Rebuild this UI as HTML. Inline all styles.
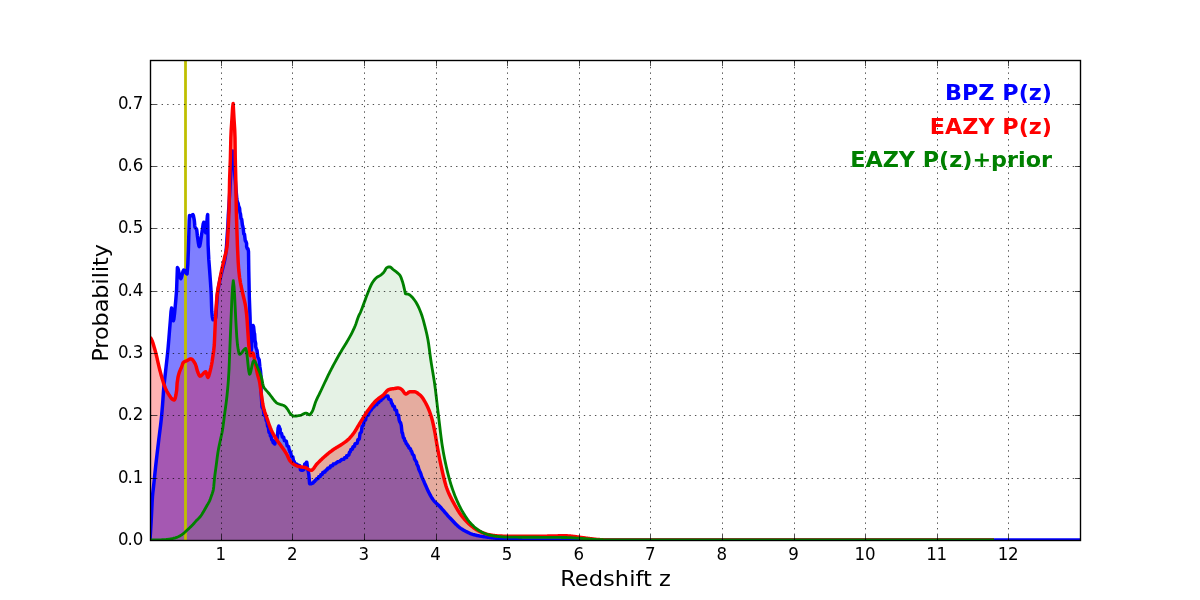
<!DOCTYPE html>
<html lang="en">
<head>
<meta charset="utf-8">
<title>P(z)</title>
<style>
html,body{margin:0;padding:0;background:#fff;}
body{width:1200px;height:600px;overflow:hidden;}
svg{display:block;}
text{font-family:"DejaVu Sans","Bitstream Vera Sans","Liberation Sans",sans-serif;fill:#000;}
.tick{font-size:16.67px;letter-spacing:-0.3px;}
.ytick{font-size:16.67px;}
.lab{font-size:22.22px;}
.leg{font-size:22.22px;font-weight:bold;}
</style>
</head>
<body>
<svg width="1200" height="600" viewBox="0 0 1200 600">
<rect x="0" y="0" width="1200" height="600" fill="#ffffff"/>
<defs><clipPath id="ax"><rect x="150" y="60" width="930" height="480"/></clipPath></defs>
<g clip-path="url(#ax)">
<path d="M150.00,540.00 L150.70,529.27 L151.25,520.00 L152.10,502.52 L152.50,496.00 L152.80,492.86 L153.50,487.00 L153.50,487.00 L154.20,480.33 L154.90,473.49 L155.60,466.83 L155.80,465.00 L156.30,460.58 L157.00,454.60 L157.70,448.77 L158.40,442.95 L158.75,440.00 L159.10,437.10 L159.80,431.56 L160.50,425.97 L161.20,419.89 L161.70,415.00 L162.60,404.02 L162.90,400.00 L163.30,394.10 L163.60,390.00 L164.00,385.63 L164.70,379.09 L165.50,372.00 L166.10,366.58 L166.80,360.43 L167.50,354.00 L167.90,350.00 L168.20,346.74 L168.90,338.34 L169.60,329.67 L170.00,325.00 L170.30,321.21 L171.00,311.80 L171.60,308.00 L172.40,313.84 L173.10,320.31 L173.30,320.80 L173.80,319.46 L174.50,314.12 L175.20,306.61 L175.80,300.00 L176.60,290.00 L176.60,290.00 L177.40,267.60 L178.00,268.52 L178.70,271.23 L179.40,274.60 L180.10,277.48 L180.80,278.70 L180.80,278.70 L181.50,277.42 L182.20,274.57 L182.90,271.62 L183.70,270.00 L184.30,270.32 L185.00,271.27 L185.70,272.46 L186.40,273.47 L187.10,273.90 L187.10,273.90 L187.80,264.63 L188.40,250.00 L189.20,220.49 L189.50,215.60 L189.90,215.64 L190.60,215.76 L191.00,215.80 L191.30,215.72 L192.00,215.15 L192.70,214.64 L192.90,214.60 L193.40,215.54 L194.10,219.09 L194.40,221.00 L194.80,225.74 L195.00,227.30 L195.50,228.07 L196.20,228.57 L196.60,229.20 L196.90,231.13 L197.40,236.00 L198.30,242.61 L199.00,246.17 L199.30,246.60 L199.70,246.01 L200.40,242.77 L201.10,237.99 L201.80,233.17 L202.00,232.00 L202.50,228.65 L203.20,223.84 L203.75,222.20 L204.60,226.49 L205.30,231.64 L205.70,232.80 L206.00,231.69 L206.70,223.70 L207.40,215.71 L207.70,214.60 L208.10,245.00 L208.10,245.00 L208.80,259.70 L209.60,270.00 L210.20,278.40 L210.90,288.38 L211.25,295.00 L211.60,306.70 L211.80,311.70 L212.30,316.79 L213.00,319.80 L213.00,319.80 L213.70,319.70 L214.40,319.40 L215.10,318.89 L215.50,318.50 L215.80,316.88 L216.50,306.63 L217.30,295.00 L217.90,290.61 L218.60,286.55 L219.40,282.50 L220.00,279.64 L220.70,276.61 L221.40,273.74 L222.10,270.85 L222.30,270.00 L222.80,267.97 L223.50,265.34 L224.20,262.56 L224.90,259.21 L225.20,257.50 L225.60,254.77 L226.30,248.41 L226.60,245.00 L227.00,238.42 L227.20,235.00 L227.70,228.26 L227.90,225.00 L228.30,215.00 L229.00,205.00 L229.60,195.00 L230.50,178.00 L230.50,178.00 L231.20,166.94 L231.90,156.95 L232.60,151.34 L232.80,151.00 L233.30,153.26 L234.00,161.80 L234.70,172.57 L235.10,178.00 L235.40,181.68 L236.10,190.38 L236.50,194.86 L236.80,198.59 L237.00,200.16 L237.50,201.88 L238.20,203.40 L238.50,205.71 L238.90,206.72 L239.60,208.47 L239.90,212.10 L240.30,213.44 L240.50,213.88 L241.00,218.53 L241.70,219.25 L241.70,219.25 L242.40,224.89 L242.70,225.90 L243.20,228.30 L243.80,233.96 L244.50,234.32 L244.50,234.32 L245.20,240.19 L245.50,241.14 L245.90,241.42 L246.60,243.30 L246.60,246.70 L247.30,248.50 L248.00,248.86 L248.50,251.60 L248.80,271.70 L249.30,296.70 L250.10,318.30 L250.10,318.30 L250.50,341.70 L250.90,354.30 L251.60,346.70 L252.20,332.60 L252.90,326.18 L253.10,325.50 L253.60,326.90 L254.30,333.42 L254.60,333.83 L255.00,340.41 L255.70,343.30 L255.70,346.70 L256.40,348.76 L257.00,350.30 L257.80,357.04 L258.30,358.03 L259.20,359.82 L259.90,366.99 L260.50,371.02 L261.00,376.60 L261.05,391.70 L261.30,395.38 L262.00,406.90 L262.30,407.81 L262.70,408.11 L263.40,409.68 L264.10,414.98 L264.80,415.54 L265.50,415.82 L265.70,415.92 L266.20,420.53 L266.90,420.95 L267.60,426.34 L268.30,426.78 L269.00,432.35 L269.70,432.71 L270.00,432.84 L270.40,435.96 L271.10,436.26 L271.80,439.84 L272.50,440.11 L273.20,442.83 L273.90,442.99 L274.60,443.98 L274.80,443.99 L275.30,441.83 L276.00,440.22 L276.70,439.79 L277.30,437.70 L278.10,428.03 L278.90,426.00 L279.50,427.66 L280.20,429.30 L280.20,432.70 L280.90,433.27 L281.60,433.50 L281.60,433.50 L282.30,436.95 L283.00,437.12 L283.70,437.29 L284.40,440.68 L285.10,440.84 L285.80,441.02 L286.30,441.16 L287.20,445.99 L287.90,446.25 L288.60,446.52 L289.30,450.24 L289.70,450.38 L290.00,452.22 L290.70,452.46 L291.40,456.33 L292.20,456.62 L292.80,456.86 L293.50,461.13 L294.20,461.41 L295.00,463.97 L295.60,464.04 L296.30,464.09 L297.00,464.13 L297.70,465.43 L298.40,465.48 L299.00,465.54 L299.80,465.75 L300.50,469.96 L301.20,470.22 L301.90,470.37 L302.10,470.25 L302.60,470.20 L303.30,469.99 L304.00,469.42 L304.70,463.99 L305.40,463.69 L306.10,463.50 L306.50,462.20 L306.80,462.26 L307.50,467.82 L308.30,471.57 L308.90,475.14 L309.60,483.68 L310.00,483.88 L310.30,483.88 L311.00,483.85 L311.70,483.24 L312.40,483.17 L313.10,483.08 L313.80,481.68 L314.50,481.58 L315.20,480.30 L315.90,480.20 L316.70,478.73 L317.30,478.65 L318.00,478.56 L318.70,476.83 L319.40,476.73 L320.10,476.62 L320.80,474.75 L321.50,474.64 L322.20,474.54 L322.90,472.41 L323.60,472.31 L324.30,472.21 L325.00,472.12 L325.00,471.04 L325.70,470.95 L326.40,469.82 L327.10,469.72 L327.80,468.11 L328.50,468.02 L329.20,467.93 L329.90,467.85 L330.60,465.88 L331.30,465.80 L332.00,465.72 L332.70,465.65 L333.30,464.02 L334.10,463.95 L334.80,463.88 L335.50,463.82 L336.20,462.76 L336.90,462.71 L337.60,461.74 L338.30,461.69 L339.00,461.64 L339.70,461.58 L340.40,460.58 L341.10,460.52 L341.70,459.45 L342.50,459.38 L343.20,459.32 L343.90,459.25 L344.60,457.65 L345.30,457.57 L346.00,457.50 L346.70,457.41 L346.70,455.59 L347.40,455.48 L348.10,455.34 L348.80,455.18 L349.50,452.28 L350.20,452.10 L350.90,449.50 L351.70,449.31 L352.30,449.19 L353.00,446.74 L353.70,446.61 L354.40,446.49 L355.10,443.70 L355.80,443.57 L356.50,443.42 L357.20,443.26 L357.90,439.60 L358.30,439.48 L358.60,439.39 L359.30,439.10 L360.00,433.48 L360.70,432.64 L361.40,431.78 L362.10,425.94 L362.80,425.60 L363.30,425.40 L364.20,420.52 L364.90,420.28 L365.60,420.05 L366.30,415.60 L367.00,415.40 L367.70,415.20 L368.40,415.02 L369.10,411.86 L369.80,411.71 L370.00,410.38 L370.50,410.28 L371.20,410.15 L371.90,408.33 L372.60,408.21 L373.30,406.87 L374.00,406.77 L374.70,404.99 L375.40,404.89 L376.10,404.79 L376.80,404.70 L377.50,402.66 L378.30,402.55 L378.90,402.47 L379.60,400.73 L380.30,400.63 L381.00,400.54 L381.70,398.91 L382.40,398.82 L383.00,398.75 L383.80,397.29 L384.50,397.19 L385.20,396.08 L385.90,396.01 L386.70,395.90 L387.30,395.93 L388.00,396.03 L388.70,399.20 L389.40,399.39 L390.10,399.60 L390.80,399.86 L391.60,403.41 L392.20,403.56 L392.90,406.09 L393.60,406.26 L394.30,406.44 L395.00,409.92 L395.70,410.12 L396.50,410.37 L397.10,414.50 L397.80,414.75 L398.50,415.02 L399.20,420.23 L399.90,422.16 L400.50,422.49 L401.30,425.58 L402.00,432.62 L402.50,432.98 L403.40,437.71 L404.10,437.99 L404.80,440.90 L405.00,440.97 L405.50,441.14 L406.20,443.56 L406.90,443.81 L407.60,445.70 L408.30,445.98 L409.00,448.04 L409.70,448.37 L410.40,448.77 L411.10,450.92 L411.70,451.39 L412.50,454.15 L413.20,454.87 L413.90,455.72 L414.60,459.03 L415.30,460.22 L416.00,461.26 L416.70,462.59 L416.70,463.92 L417.40,465.05 L418.10,466.33 L418.80,469.23 L419.50,470.79 L420.20,472.25 L420.90,473.93 L421.60,476.36 L422.30,477.88 L422.90,479.14 L423.70,480.91 L424.40,482.65 L425.10,484.23 L425.80,485.82 L426.50,487.39 L427.20,488.93 L427.90,490.44 L428.60,491.90 L429.30,493.31 L430.00,494.67 L430.70,495.95 L431.40,497.16 L432.10,498.29 L432.80,499.32 L433.30,500.00 L434.20,501.10 L434.90,501.86 L435.60,502.57 L436.30,503.23 L437.00,503.87 L437.70,504.50 L438.40,505.14 L439.10,505.79 L439.80,506.49 L440.00,506.70 L440.50,507.23 L441.20,508.00 L441.90,508.79 L442.60,509.58 L443.30,510.39 L444.00,511.21 L444.70,512.03 L445.40,512.85 L446.10,513.67 L446.80,514.48 L447.50,515.28 L448.20,516.07 L448.90,516.84 L449.60,517.58 L450.00,518.00 L450.30,518.31 L451.00,519.04 L451.70,519.78 L452.40,520.52 L453.10,521.26 L453.80,522.00 L454.50,522.73 L455.20,523.45 L455.90,524.16 L456.60,524.85 L457.30,525.51 L458.00,526.16 L458.70,526.77 L459.40,527.35 L460.10,527.90 L460.80,528.41 L461.50,528.88 L461.70,529.00 L462.20,529.30 L462.90,529.72 L463.60,530.13 L464.30,530.53 L465.00,530.92 L465.70,531.30 L466.40,531.66 L467.10,532.01 L467.80,532.35 L468.50,532.68 L469.20,533.00 L469.90,533.29 L470.60,533.58 L471.30,533.85 L472.00,534.10 L472.70,534.34 L473.40,534.56 L474.10,534.76 L474.80,534.95 L475.00,535.00 L475.50,535.12 L476.20,535.28 L476.90,535.44 L477.60,535.59 L478.30,535.73 L479.00,535.87 L479.70,536.01 L480.40,536.13 L481.10,536.25 L481.80,536.37 L482.50,536.48 L483.20,536.59 L483.90,536.70 L484.60,536.80 L485.30,536.90 L486.00,536.99 L486.70,537.09 L487.40,537.18 L488.10,537.27 L488.80,537.35 L489.50,537.44 L490.00,537.50 L490.90,537.61 L491.60,537.69 L492.30,537.77 L493.00,537.85 L493.70,537.93 L494.40,538.00 L495.10,538.08 L495.80,538.15 L496.50,538.22 L497.20,538.29 L497.90,538.36 L498.60,538.43 L499.30,538.49 L500.00,538.56 L500.70,538.62 L501.40,538.67 L502.10,538.73 L502.80,538.78 L503.50,538.84 L504.20,538.89 L504.90,538.93 L505.60,538.98 L506.00,539.00 L506.30,539.02 L507.00,539.06 L507.70,539.10 L508.40,539.14 L509.10,539.18 L509.80,539.23 L510.50,539.27 L511.20,539.31 L511.90,539.35 L512.60,539.39 L513.30,539.43 L514.00,539.47 L514.70,539.51 L515.40,539.55 L516.10,539.58 L516.80,539.62 L517.50,539.65 L518.20,539.69 L518.90,539.72 L519.60,539.75 L520.30,539.78 L521.00,539.81 L521.70,539.84 L522.40,539.86 L523.10,539.88 L523.80,539.90 L524.50,539.92 L525.20,539.94 L525.90,539.96 L526.60,539.97 L527.30,539.98 L528.00,539.99 L528.70,540.00 L529.40,540.00 L530.00,540.00 L530.80,540.00 L531.50,540.00 L532.20,540.00 L532.90,540.00 L533.60,540.00 L534.30,540.00 L535.00,540.00 L535.70,540.00 L536.40,540.00 L537.10,540.00 L537.80,540.00 L538.50,540.00 L539.20,540.00 L539.90,540.00 L540.60,540.00 L541.30,540.00 L542.00,540.00 L542.70,540.00 L543.40,540.00 L544.10,540.00 L544.80,540.00 L545.50,540.00 L546.20,540.00 L546.90,540.00 L547.60,540.00 L548.30,540.00 L549.00,540.00 L549.70,540.00 L550.40,540.00 L551.10,540.00 L551.80,540.00 L552.50,540.00 L553.20,540.00 L553.90,540.00 L554.60,540.00 L555.30,540.00 L556.00,540.00 L556.70,540.00 L557.40,540.00 L558.10,540.00 L558.80,540.00 L559.50,540.00 L560.20,540.00 L560.90,540.00 L561.60,540.00 L562.30,540.00 L563.00,540.00 L563.70,540.00 L564.40,540.00 L565.10,540.00 L565.80,540.00 L566.50,540.00 L567.20,540.00 L567.90,540.00 L568.60,540.00 L569.30,540.00 L570.00,540.00 L570.70,540.00 L571.40,540.00 L572.10,540.00 L572.80,540.00 L573.50,540.00 L574.20,540.00 L574.90,540.00 L575.60,540.00 L576.30,540.00 L577.00,540.00 L577.70,540.00 L578.40,540.00 L579.10,540.00 L579.80,540.00 L580.50,540.00 L581.20,540.00 L581.90,540.00 L582.60,540.00 L583.30,540.00 L584.00,540.00 L584.70,540.00 L585.40,540.00 L586.10,540.00 L586.80,540.00 L587.50,540.00 L588.20,540.00 L588.90,540.00 L589.60,540.00 L590.30,540.00 L591.00,540.00 L591.70,540.00 L592.40,540.00 L593.10,540.00 L593.80,540.00 L594.50,540.00 L595.20,540.00 L595.90,540.00 L596.60,540.00 L597.30,540.00 L598.00,540.00 L598.70,540.00 L599.40,540.00 L600.10,540.00 L600.80,540.00 L601.50,540.00 L602.20,540.00 L602.90,540.00 L603.60,540.00 L604.30,540.00 L605.00,540.00 L605.70,540.00 L606.40,540.00 L607.10,540.00 L607.80,540.00 L608.50,540.00 L609.20,540.00 L609.90,540.00 L610.60,540.00 L611.30,540.00 L612.00,540.00 L612.70,540.00 L613.40,540.00 L614.10,540.00 L614.80,540.00 L615.50,540.00 L616.20,540.00 L616.90,540.00 L617.60,540.00 L618.30,540.00 L619.00,540.00 L619.70,540.00 L620.40,540.00 L621.10,540.00 L621.80,540.00 L622.50,540.00 L623.20,540.00 L623.90,540.00 L624.60,540.00 L625.30,540.00 L626.00,540.00 L626.70,540.00 L627.40,540.00 L628.10,540.00 L628.80,540.00 L629.50,540.00 L630.20,540.00 L630.90,540.00 L631.60,540.00 L632.30,540.00 L633.00,540.00 L633.70,540.00 L634.40,540.00 L635.10,540.00 L635.80,540.00 L636.50,540.00 L637.20,540.00 L637.90,540.00 L638.60,540.00 L639.30,540.00 L640.00,540.00 L640.70,540.00 L641.40,540.00 L642.10,540.00 L642.80,540.00 L643.50,540.00 L644.20,540.00 L644.90,540.00 L645.60,540.00 L646.30,540.00 L647.00,540.00 L647.70,540.00 L648.40,540.00 L649.10,540.00 L649.80,540.00 L650.50,540.00 L651.20,540.00 L651.90,540.00 L652.60,540.00 L653.30,540.00 L654.00,540.00 L654.70,540.00 L655.40,540.00 L656.10,540.00 L656.80,540.00 L657.50,540.00 L658.20,540.00 L658.90,540.00 L659.60,540.00 L660.30,540.00 L661.00,540.00 L661.70,540.00 L662.40,540.00 L663.10,540.00 L663.80,540.00 L664.50,540.00 L665.20,540.00 L665.90,540.00 L666.60,540.00 L667.30,540.00 L668.00,540.00 L668.70,540.00 L669.40,540.00 L670.10,540.00 L670.80,540.00 L671.50,540.00 L672.20,540.00 L672.90,540.00 L673.60,540.00 L674.30,540.00 L675.00,540.00 L675.70,540.00 L676.40,540.00 L677.10,540.00 L677.80,540.00 L678.50,540.00 L679.20,540.00 L679.90,540.00 L680.60,540.00 L681.30,540.00 L682.00,540.00 L682.70,540.00 L683.40,540.00 L684.10,540.00 L684.80,540.00 L685.50,540.00 L686.20,540.00 L686.90,540.00 L687.60,540.00 L688.30,540.00 L689.00,540.00 L689.70,540.00 L690.40,540.00 L691.10,540.00 L691.80,540.00 L692.50,540.00 L693.20,540.00 L693.90,540.00 L694.60,540.00 L695.30,540.00 L696.00,540.00 L696.70,540.00 L697.40,540.00 L698.10,540.00 L698.80,540.00 L699.50,540.00 L700.20,540.00 L700.90,540.00 L701.60,540.00 L702.30,540.00 L703.00,540.00 L703.70,540.00 L704.40,540.00 L705.10,540.00 L705.80,540.00 L706.50,540.00 L707.20,540.00 L707.90,540.00 L708.60,540.00 L709.30,540.00 L710.00,540.00 L710.70,540.00 L711.40,540.00 L712.10,540.00 L712.80,540.00 L713.50,540.00 L714.20,540.00 L714.90,540.00 L715.60,540.00 L716.30,540.00 L717.00,540.00 L717.70,540.00 L718.40,540.00 L719.10,540.00 L719.80,540.00 L720.50,540.00 L721.20,540.00 L721.90,540.00 L722.60,540.00 L723.30,540.00 L724.00,540.00 L724.70,540.00 L725.40,540.00 L726.10,540.00 L726.80,540.00 L727.50,540.00 L728.20,540.00 L728.90,540.00 L729.60,540.00 L730.30,540.00 L731.00,540.00 L731.70,540.00 L732.40,540.00 L733.10,540.00 L733.80,540.00 L734.50,540.00 L735.20,540.00 L735.90,540.00 L736.60,540.00 L737.30,540.00 L738.00,540.00 L738.70,540.00 L739.40,540.00 L740.10,540.00 L740.80,540.00 L741.50,540.00 L742.20,540.00 L742.90,540.00 L743.60,540.00 L744.30,540.00 L745.00,540.00 L745.70,540.00 L746.40,540.00 L747.10,540.00 L747.80,540.00 L748.50,540.00 L749.20,540.00 L749.90,540.00 L750.60,540.00 L751.30,540.00 L752.00,540.00 L752.70,540.00 L753.40,540.00 L754.10,540.00 L754.80,540.00 L755.50,540.00 L756.20,540.00 L756.90,540.00 L757.60,540.00 L758.30,540.00 L759.00,540.00 L759.70,540.00 L760.40,540.00 L761.10,540.00 L761.80,540.00 L762.50,540.00 L763.20,540.00 L763.90,540.00 L764.60,540.00 L765.30,540.00 L766.00,540.00 L766.70,540.00 L767.40,540.00 L768.10,540.00 L768.80,540.00 L769.50,540.00 L770.20,540.00 L770.90,540.00 L771.60,540.00 L772.30,540.00 L773.00,540.00 L773.70,540.00 L774.40,540.00 L775.10,540.00 L775.80,540.00 L776.50,540.00 L777.20,540.00 L777.90,540.00 L778.60,540.00 L779.30,540.00 L780.00,540.00 L780.70,540.00 L781.40,540.00 L782.10,540.00 L782.80,540.00 L783.50,540.00 L784.20,540.00 L784.90,540.00 L785.60,540.00 L786.30,540.00 L787.00,540.00 L787.70,540.00 L788.40,540.00 L789.10,540.00 L789.80,540.00 L790.50,540.00 L791.20,540.00 L791.90,540.00 L792.60,540.00 L793.30,540.00 L794.00,540.00 L794.70,540.00 L795.40,540.00 L796.10,540.00 L796.80,540.00 L797.50,540.00 L798.20,540.00 L798.90,540.00 L799.60,540.00 L800.30,540.00 L801.00,540.00 L801.70,540.00 L802.40,540.00 L803.10,540.00 L803.80,540.00 L804.50,540.00 L805.20,540.00 L805.90,540.00 L806.60,540.00 L807.30,540.00 L808.00,540.00 L808.70,540.00 L809.40,540.00 L810.10,540.00 L810.80,540.00 L811.50,540.00 L812.20,540.00 L812.90,540.00 L813.60,540.00 L814.30,540.00 L815.00,540.00 L815.70,540.00 L816.40,540.00 L817.10,540.00 L817.80,540.00 L818.50,540.00 L819.20,540.00 L819.90,540.00 L820.60,540.00 L821.30,540.00 L822.00,540.00 L822.70,540.00 L823.40,540.00 L824.10,540.00 L824.80,540.00 L825.50,540.00 L826.20,540.00 L826.90,540.00 L827.60,540.00 L828.30,540.00 L829.00,540.00 L829.70,540.00 L830.40,540.00 L831.10,540.00 L831.80,540.00 L832.50,540.00 L833.20,540.00 L833.90,540.00 L834.60,540.00 L835.30,540.00 L836.00,540.00 L836.70,540.00 L837.40,540.00 L838.10,540.00 L838.80,540.00 L839.50,540.00 L840.20,540.00 L840.90,540.00 L841.60,540.00 L842.30,540.00 L843.00,540.00 L843.70,540.00 L844.40,540.00 L845.10,540.00 L845.80,540.00 L846.50,540.00 L847.20,540.00 L847.90,540.00 L848.60,540.00 L849.30,540.00 L850.00,540.00 L850.70,540.00 L851.40,540.00 L852.10,540.00 L852.80,540.00 L853.50,540.00 L854.20,540.00 L854.90,540.00 L855.60,540.00 L856.30,540.00 L857.00,540.00 L857.70,540.00 L858.40,540.00 L859.10,540.00 L859.80,540.00 L860.50,540.00 L861.20,540.00 L861.90,540.00 L862.60,540.00 L863.30,540.00 L864.00,540.00 L864.70,540.00 L865.40,540.00 L866.10,540.00 L866.80,540.00 L867.50,540.00 L868.20,540.00 L868.90,540.00 L869.60,540.00 L870.30,540.00 L871.00,540.00 L871.70,540.00 L872.40,540.00 L873.10,540.00 L873.80,540.00 L874.50,540.00 L875.20,540.00 L875.90,540.00 L876.60,540.00 L877.30,540.00 L878.00,540.00 L878.70,540.00 L879.40,540.00 L880.10,540.00 L880.80,540.00 L881.50,540.00 L882.20,540.00 L882.90,540.00 L883.60,540.00 L884.30,540.00 L885.00,540.00 L885.70,540.00 L886.40,540.00 L887.10,540.00 L887.80,540.00 L888.50,540.00 L889.20,540.00 L889.90,540.00 L890.60,540.00 L891.30,540.00 L892.00,540.00 L892.70,540.00 L893.40,540.00 L894.10,540.00 L894.80,540.00 L895.50,540.00 L896.20,540.00 L896.90,540.00 L897.60,540.00 L898.30,540.00 L899.00,540.00 L899.70,540.00 L900.40,540.00 L901.10,540.00 L901.80,540.00 L902.50,540.00 L903.20,540.00 L903.90,540.00 L904.60,540.00 L905.30,540.00 L906.00,540.00 L906.70,540.00 L907.40,540.00 L908.10,540.00 L908.80,540.00 L909.50,540.00 L910.20,540.00 L910.90,540.00 L911.60,540.00 L912.30,540.00 L913.00,540.00 L913.70,540.00 L914.40,540.00 L915.10,540.00 L915.80,540.00 L916.50,540.00 L917.20,540.00 L917.90,540.00 L918.60,540.00 L919.30,540.00 L920.00,540.00 L920.70,540.00 L921.40,540.00 L922.10,540.00 L922.80,540.00 L923.50,540.00 L924.20,540.00 L924.90,540.00 L925.60,540.00 L926.30,540.00 L927.00,540.00 L927.70,540.00 L928.40,540.00 L929.10,540.00 L929.80,540.00 L930.50,540.00 L931.20,540.00 L931.90,540.00 L932.60,540.00 L933.30,540.00 L934.00,540.00 L934.70,540.00 L935.40,540.00 L936.10,540.00 L936.80,540.00 L937.50,540.00 L938.20,540.00 L938.90,540.00 L939.60,540.00 L940.30,540.00 L941.00,540.00 L941.70,540.00 L942.40,540.00 L943.10,540.00 L943.80,540.00 L944.50,540.00 L945.20,540.00 L945.90,540.00 L946.60,540.00 L947.30,540.00 L948.00,540.00 L948.70,540.00 L949.40,540.00 L950.10,540.00 L950.80,540.00 L951.50,540.00 L952.20,540.00 L952.90,540.00 L953.60,540.00 L954.30,540.00 L955.00,540.00 L955.70,540.00 L956.40,540.00 L957.10,540.00 L957.80,540.00 L958.50,540.00 L959.20,540.00 L959.90,540.00 L960.60,540.00 L961.30,540.00 L962.00,540.00 L962.70,540.00 L963.40,540.00 L964.10,540.00 L964.80,540.00 L965.50,540.00 L966.20,540.00 L966.90,540.00 L967.60,540.00 L968.30,540.00 L969.00,540.00 L969.70,540.00 L970.40,540.00 L971.10,540.00 L971.80,540.00 L972.50,540.00 L973.20,540.00 L973.90,540.00 L974.60,540.00 L975.30,540.00 L976.00,540.00 L976.70,540.00 L977.40,540.00 L978.10,540.00 L978.80,540.00 L979.50,540.00 L980.20,540.00 L980.90,540.00 L981.60,540.00 L982.30,540.00 L983.00,540.00 L983.70,540.00 L984.40,540.00 L985.10,540.00 L985.80,540.00 L986.50,540.00 L987.20,540.00 L987.90,540.00 L988.60,540.00 L989.30,540.00 L990.00,540.00 L990.70,540.00 L991.40,540.00 L992.10,540.00 L992.80,540.00 L993.50,540.00 L994.20,540.00 L994.90,540.00 L995.60,540.00 L996.30,540.00 L997.00,540.00 L997.70,540.00 L998.40,540.00 L999.10,540.00 L999.80,540.00 L1000.50,540.00 L1001.20,540.00 L1001.90,540.00 L1002.60,540.00 L1003.30,540.00 L1004.00,540.00 L1004.70,540.00 L1005.40,540.00 L1006.10,540.00 L1006.80,540.00 L1007.50,540.00 L1008.20,540.00 L1008.90,540.00 L1009.60,540.00 L1010.30,540.00 L1011.00,540.00 L1011.70,540.00 L1012.40,540.00 L1013.10,540.00 L1013.80,540.00 L1014.50,540.00 L1015.20,540.00 L1015.90,540.00 L1016.60,540.00 L1017.30,540.00 L1018.00,540.00 L1018.70,540.00 L1019.40,540.00 L1020.10,540.00 L1020.80,540.00 L1021.50,540.00 L1022.20,540.00 L1022.90,540.00 L1023.60,540.00 L1024.30,540.00 L1025.00,540.00 L1025.70,540.00 L1026.40,540.00 L1027.10,540.00 L1027.80,540.00 L1028.50,540.00 L1029.20,540.00 L1029.90,540.00 L1030.60,540.00 L1031.30,540.00 L1032.00,540.00 L1032.70,540.00 L1033.40,540.00 L1034.10,540.00 L1034.80,540.00 L1035.50,540.00 L1036.20,540.00 L1036.90,540.00 L1037.60,540.00 L1038.30,540.00 L1039.00,540.00 L1039.70,540.00 L1040.40,540.00 L1041.10,540.00 L1041.80,540.00 L1042.50,540.00 L1043.20,540.00 L1043.90,540.00 L1044.60,540.00 L1045.30,540.00 L1046.00,540.00 L1046.70,540.00 L1047.40,540.00 L1048.10,540.00 L1048.80,540.00 L1049.50,540.00 L1050.20,540.00 L1050.90,540.00 L1051.60,540.00 L1052.30,540.00 L1053.00,540.00 L1053.70,540.00 L1054.40,540.00 L1055.10,540.00 L1055.80,540.00 L1056.50,540.00 L1057.20,540.00 L1057.90,540.00 L1058.60,540.00 L1059.30,540.00 L1060.00,540.00 L1060.70,540.00 L1061.40,540.00 L1062.10,540.00 L1062.80,540.00 L1063.50,540.00 L1064.20,540.00 L1064.90,540.00 L1065.60,540.00 L1066.30,540.00 L1067.00,540.00 L1067.70,540.00 L1068.40,540.00 L1069.10,540.00 L1069.80,540.00 L1070.50,540.00 L1071.20,540.00 L1071.90,540.00 L1072.60,540.00 L1073.30,540.00 L1074.00,540.00 L1074.70,540.00 L1075.40,540.00 L1076.10,540.00 L1076.80,540.00 L1077.50,540.00 L1078.20,540.00 L1078.90,540.00 L1079.60,540.00 L1080.00,540.00 L1080.00,540.00 L150.00,540.00 Z" fill="#0000ff" fill-opacity="0.5" stroke="none"/>
<path d="M150.00,337.50 L150.70,338.12 L151.00,338.50 L151.40,339.14 L152.10,340.67 L152.80,342.62 L153.50,344.86 L154.20,347.25 L155.00,350.00 L155.60,352.16 L156.30,354.96 L157.00,357.97 L157.70,361.08 L158.40,364.20 L159.10,367.22 L159.80,370.04 L160.00,370.80 L160.50,372.65 L161.20,375.21 L161.90,377.71 L162.60,380.09 L163.30,382.35 L164.00,384.44 L164.20,385.00 L164.70,386.37 L165.40,388.21 L166.10,389.84 L166.70,391.00 L167.50,392.37 L168.20,393.56 L168.90,394.73 L169.60,395.84 L170.30,396.88 L171.00,397.81 L171.70,398.61 L172.40,399.25 L173.10,399.71 L173.80,399.96 L174.20,400.00 L174.50,399.84 L175.20,398.30 L175.90,395.22 L176.70,390.00 L177.10,383.30 L178.00,377.22 L178.75,374.20 L179.40,372.13 L180.10,370.36 L180.80,368.80 L181.50,367.20 L181.70,366.70 L182.20,365.21 L182.90,363.17 L183.30,362.50 L183.60,362.25 L184.30,361.79 L185.00,361.47 L185.70,361.21 L186.40,360.94 L186.70,360.80 L187.10,360.59 L187.80,360.17 L188.50,359.73 L189.20,359.32 L189.90,359.02 L190.60,358.86 L190.80,358.85 L191.30,358.94 L192.00,359.33 L192.70,360.00 L193.40,360.89 L194.10,361.95 L194.80,363.13 L195.40,364.20 L196.20,366.48 L196.90,369.20 L197.60,371.70 L197.90,372.50 L198.30,373.44 L199.00,375.02 L199.70,376.03 L200.00,376.15 L200.40,376.09 L201.10,375.74 L201.80,375.14 L202.50,374.40 L203.20,373.61 L203.90,372.86 L204.60,372.24 L205.30,371.84 L205.80,371.75 L206.70,373.99 L207.40,376.63 L207.90,377.45 L208.80,376.03 L209.50,373.59 L210.20,370.77 L210.40,370.00 L210.90,367.94 L211.60,364.49 L212.10,361.70 L213.00,355.57 L213.30,353.30 L213.70,350.44 L214.30,345.00 L215.10,326.72 L215.40,320.00 L215.80,312.88 L216.50,301.82 L217.10,295.00 L217.90,289.33 L218.60,285.59 L219.20,282.50 L220.00,278.27 L220.70,274.76 L221.40,271.40 L221.70,270.00 L222.10,268.19 L222.80,265.18 L223.50,262.26 L224.20,259.28 L224.60,257.50 L224.90,256.24 L225.60,253.72 L226.30,250.89 L227.00,246.64 L227.20,245.00 L227.50,240.00 L228.40,225.39 L229.05,210.00 L229.60,180.00 L230.40,158.00 L230.85,138.00 L231.20,130.13 L232.00,118.00 L232.60,108.21 L233.15,103.40 L233.95,118.00 L234.70,129.79 L235.00,138.00 L235.25,158.00 L235.80,180.00 L236.10,198.67 L236.30,210.00 L236.80,226.91 L237.25,240.00 L237.40,245.00 L238.20,262.25 L238.75,270.00 L239.60,277.47 L240.40,282.50 L241.00,285.72 L241.70,288.95 L242.40,291.92 L243.10,295.00 L243.10,295.00 L243.80,297.99 L244.50,300.82 L245.20,304.04 L245.80,307.50 L246.60,314.35 L247.10,320.00 L247.90,332.50 L248.75,345.00 L249.40,350.94 L250.10,355.23 L250.40,355.75 L250.80,355.56 L251.50,354.62 L252.20,353.53 L252.90,353.00 L252.90,353.00 L253.60,354.55 L254.30,358.04 L255.00,361.70 L255.00,361.70 L255.70,365.15 L256.40,368.87 L257.10,372.42 L257.50,374.20 L257.80,375.35 L258.50,377.64 L259.20,380.12 L259.40,381.00 L259.90,383.77 L260.60,388.69 L261.30,393.93 L261.70,396.70 L262.00,398.71 L262.70,403.42 L263.30,406.70 L264.10,409.84 L264.80,412.11 L265.50,414.13 L266.20,416.07 L266.70,417.50 L267.60,420.17 L268.30,422.24 L269.00,424.26 L269.70,426.19 L270.40,428.00 L271.25,430.00 L271.80,431.17 L272.50,432.58 L273.20,433.90 L273.90,435.14 L274.60,436.34 L275.30,437.49 L275.80,438.30 L276.70,439.70 L277.40,440.72 L278.10,441.71 L278.80,442.68 L279.50,443.63 L280.20,444.58 L280.90,445.56 L281.70,446.70 L282.30,447.57 L283.00,448.57 L283.70,449.56 L284.40,450.57 L285.10,451.62 L285.80,452.71 L286.50,453.86 L286.70,454.20 L287.20,455.15 L287.90,456.69 L288.60,458.27 L289.30,459.71 L290.00,460.80 L290.00,460.80 L290.70,461.61 L291.40,462.35 L292.10,463.01 L292.80,463.60 L293.50,464.12 L294.20,464.57 L295.00,465.00 L295.60,465.28 L296.30,465.58 L297.00,465.84 L297.70,466.08 L298.40,466.30 L299.10,466.49 L299.80,466.66 L300.00,466.70 L300.50,466.80 L301.20,466.92 L301.90,467.01 L302.60,467.10 L303.30,467.20 L304.00,467.30 L304.70,467.43 L305.00,467.50 L305.40,467.61 L306.10,467.90 L306.80,468.27 L307.50,468.69 L308.20,469.13 L308.90,469.54 L309.60,469.89 L310.30,470.15 L311.00,470.29 L311.25,470.30 L311.70,470.22 L312.40,469.80 L313.10,469.10 L313.80,468.20 L314.50,467.19 L315.20,466.15 L315.90,465.16 L316.70,464.20 L317.30,463.58 L318.00,462.86 L318.70,462.15 L319.40,461.45 L320.10,460.76 L320.80,460.07 L321.50,459.40 L322.20,458.74 L322.90,458.09 L323.60,457.44 L324.30,456.82 L325.00,456.20 L325.00,456.20 L325.70,455.59 L326.40,454.99 L327.10,454.40 L327.80,453.82 L328.50,453.24 L329.20,452.68 L329.90,452.12 L330.60,451.58 L331.30,451.05 L332.00,450.53 L332.70,450.02 L333.30,449.60 L334.10,449.06 L334.80,448.61 L335.50,448.17 L336.20,447.75 L336.90,447.34 L337.60,446.93 L338.30,446.52 L339.00,446.11 L339.70,445.69 L340.40,445.25 L341.10,444.80 L341.70,444.40 L342.50,443.85 L343.20,443.37 L343.90,442.88 L344.60,442.39 L345.30,441.87 L346.00,441.34 L346.70,440.78 L347.40,440.20 L348.10,439.58 L348.30,439.40 L348.80,438.93 L349.50,438.22 L350.20,437.47 L350.90,436.68 L351.60,435.85 L352.30,434.99 L353.00,434.09 L353.60,433.30 L354.40,432.18 L355.10,431.12 L355.80,430.01 L356.50,428.86 L357.20,427.68 L357.90,426.49 L358.60,425.30 L359.30,424.13 L360.00,423.00 L360.00,423.00 L360.70,421.88 L361.40,420.74 L362.10,419.60 L362.80,418.45 L363.50,417.31 L364.20,416.18 L364.90,415.05 L365.60,413.95 L366.30,412.88 L367.00,411.84 L367.70,410.83 L368.30,410.00 L369.10,408.92 L369.80,407.99 L370.50,407.07 L371.20,406.17 L371.90,405.28 L372.60,404.42 L373.30,403.59 L374.00,402.78 L374.70,402.01 L375.40,401.27 L376.10,400.57 L376.70,400.00 L377.50,399.31 L378.20,398.75 L378.90,398.24 L379.60,397.75 L380.30,397.27 L381.00,396.78 L381.70,396.28 L382.40,395.75 L383.10,395.17 L383.30,395.00 L383.80,394.52 L384.50,393.74 L385.20,392.89 L385.90,392.03 L386.60,391.22 L387.30,390.51 L388.00,389.97 L388.30,389.80 L388.70,389.62 L389.40,389.36 L390.00,389.20 L390.80,389.04 L391.50,388.93 L392.20,388.83 L392.90,388.75 L393.60,388.66 L394.00,388.60 L394.30,388.55 L395.00,388.43 L395.70,388.30 L396.40,388.18 L397.10,388.08 L397.80,388.02 L398.30,388.00 L399.20,388.13 L399.90,388.36 L400.50,388.60 L401.30,389.13 L402.00,389.80 L402.50,390.30 L403.40,391.43 L404.10,392.47 L404.80,393.39 L405.50,393.94 L405.80,394.00 L406.20,393.94 L406.90,393.61 L407.60,393.09 L408.30,392.53 L409.00,392.03 L409.70,391.73 L410.00,391.70 L410.40,391.70 L411.10,391.70 L411.80,391.70 L412.50,391.70 L413.20,391.70 L414.00,391.70 L414.60,391.75 L415.30,391.92 L416.00,392.20 L416.70,392.57 L417.40,393.01 L418.10,393.51 L418.80,394.04 L419.50,394.60 L420.00,395.00 L420.90,395.83 L421.60,396.62 L422.30,397.52 L423.00,398.52 L423.70,399.61 L424.40,400.78 L425.10,402.01 L425.80,403.29 L426.50,404.62 L426.70,405.00 L427.20,405.99 L427.90,407.48 L428.60,409.10 L429.30,410.85 L430.00,412.75 L430.70,414.80 L431.40,417.00 L431.70,418.00 L432.10,419.43 L432.80,422.26 L433.50,425.44 L434.20,428.88 L435.00,433.00 L435.60,436.43 L436.30,440.82 L437.00,445.00 L437.00,445.00 L437.70,448.83 L438.40,452.57 L439.10,456.21 L439.80,459.75 L440.50,463.16 L441.20,466.43 L442.00,470.00 L442.60,472.59 L443.30,475.58 L444.00,478.49 L444.70,481.26 L445.40,483.84 L446.10,486.20 L446.70,488.00 L447.50,490.15 L448.20,491.90 L448.90,493.53 L449.60,495.06 L450.30,496.51 L451.00,497.90 L451.70,499.25 L452.40,500.57 L453.00,501.70 L453.80,503.19 L454.50,504.47 L455.20,505.74 L455.90,506.97 L456.60,508.18 L457.30,509.36 L458.00,510.50 L458.70,511.61 L459.40,512.68 L460.10,513.71 L460.80,514.70 L461.50,515.64 L461.70,515.90 L462.20,516.54 L462.90,517.41 L463.60,518.26 L464.30,519.09 L465.00,519.89 L465.70,520.66 L466.40,521.40 L467.10,522.12 L467.80,522.81 L468.50,523.48 L469.20,524.11 L470.00,524.80 L470.60,525.30 L471.30,525.87 L472.00,526.44 L472.70,526.99 L473.40,527.53 L474.10,528.05 L474.80,528.55 L475.50,529.04 L476.20,529.50 L476.90,529.94 L477.60,530.36 L478.30,530.76 L479.00,531.13 L479.70,531.46 L480.00,531.60 L480.40,531.78 L481.10,532.08 L481.80,532.38 L482.50,532.66 L483.20,532.94 L483.90,533.21 L484.60,533.46 L485.30,533.70 L486.00,533.93 L486.70,534.14 L487.40,534.33 L488.10,534.51 L488.80,534.67 L489.50,534.81 L490.00,534.90 L490.90,535.04 L491.60,535.15 L492.30,535.25 L493.00,535.35 L493.70,535.44 L494.40,535.53 L495.10,535.61 L495.80,535.69 L496.50,535.75 L497.20,535.82 L497.90,535.87 L498.60,535.92 L499.30,535.96 L500.00,536.00 L500.00,536.00 L500.70,536.03 L501.40,536.06 L502.10,536.09 L502.80,536.12 L503.50,536.14 L504.20,536.16 L504.90,536.18 L505.60,536.19 L506.30,536.20 L506.70,536.20 L507.00,536.20 L507.70,536.20 L508.40,536.20 L509.10,536.20 L509.80,536.20 L510.50,536.20 L511.20,536.20 L511.90,536.20 L512.60,536.20 L513.30,536.20 L514.00,536.20 L514.70,536.20 L515.40,536.20 L516.10,536.20 L516.80,536.20 L517.50,536.20 L518.20,536.20 L518.90,536.20 L519.60,536.20 L520.30,536.20 L521.00,536.20 L521.70,536.20 L522.40,536.20 L523.10,536.20 L523.80,536.20 L524.50,536.20 L525.20,536.20 L525.90,536.20 L526.60,536.20 L527.30,536.20 L528.00,536.20 L528.70,536.20 L529.40,536.20 L530.10,536.20 L530.80,536.20 L531.50,536.20 L532.20,536.20 L532.90,536.20 L533.60,536.20 L534.30,536.20 L535.00,536.20 L535.70,536.20 L536.40,536.20 L537.10,536.20 L537.80,536.20 L538.50,536.20 L539.20,536.20 L540.00,536.20 L540.60,536.20 L541.30,536.20 L542.00,536.19 L542.70,536.19 L543.40,536.18 L544.10,536.17 L544.80,536.16 L545.50,536.15 L546.20,536.13 L546.90,536.12 L547.60,536.10 L548.30,536.09 L549.00,536.07 L549.70,536.05 L550.40,536.04 L551.10,536.02 L551.80,536.00 L552.50,535.98 L553.20,535.97 L553.90,535.95 L554.60,535.93 L555.30,535.92 L556.00,535.90 L556.00,535.90 L556.70,535.88 L557.40,535.86 L558.10,535.84 L558.80,535.82 L559.50,535.79 L560.20,535.77 L560.90,535.75 L561.60,535.73 L562.30,535.72 L563.00,535.71 L563.70,535.70 L564.00,535.70 L564.40,535.70 L565.10,535.71 L565.80,535.74 L566.50,535.77 L567.20,535.81 L567.90,535.86 L568.60,535.91 L569.30,535.97 L570.00,536.03 L570.70,536.09 L571.40,536.15 L572.00,536.20 L572.80,536.28 L573.50,536.36 L574.20,536.44 L574.90,536.54 L575.60,536.64 L576.30,536.75 L577.00,536.86 L577.70,536.96 L578.40,537.07 L579.10,537.17 L579.80,537.27 L580.00,537.30 L580.50,537.37 L581.20,537.46 L581.90,537.55 L582.60,537.65 L583.30,537.74 L584.00,537.83 L584.70,537.93 L585.40,538.02 L586.10,538.11 L586.80,538.20 L587.50,538.29 L588.20,538.38 L588.90,538.47 L589.60,538.55 L590.00,538.60 L590.30,538.64 L591.00,538.72 L591.70,538.81 L592.40,538.90 L593.10,538.99 L593.80,539.08 L594.50,539.17 L595.20,539.25 L595.90,539.32 L596.60,539.39 L597.30,539.45 L598.00,539.50 L598.00,539.50 L598.70,539.54 L599.40,539.59 L600.10,539.63 L600.80,539.67 L601.50,539.71 L602.20,539.75 L602.90,539.79 L603.60,539.82 L604.30,539.86 L605.00,539.89 L605.70,539.92 L606.40,539.94 L607.10,539.96 L607.80,539.98 L608.50,539.99 L609.20,540.00 L610.00,540.00 L610.60,540.00 L611.30,540.00 L612.00,540.00 L612.70,540.00 L613.40,540.00 L614.10,540.00 L614.80,540.00 L615.50,540.00 L616.20,540.00 L616.90,540.00 L617.60,540.00 L618.30,540.00 L619.00,540.00 L619.70,540.00 L620.40,540.00 L621.10,540.00 L621.80,540.00 L622.50,540.00 L623.20,540.00 L623.90,540.00 L624.60,540.00 L625.30,540.00 L626.00,540.00 L626.70,540.00 L627.40,540.00 L628.10,540.00 L628.80,540.00 L629.50,540.00 L630.20,540.00 L630.90,540.00 L631.60,540.00 L632.30,540.00 L633.00,540.00 L633.70,540.00 L634.40,540.00 L635.10,540.00 L635.80,540.00 L636.50,540.00 L637.20,540.00 L637.90,540.00 L638.60,540.00 L639.30,540.00 L640.00,540.00 L640.70,540.00 L641.40,540.00 L642.10,540.00 L642.80,540.00 L643.50,540.00 L644.20,540.00 L644.90,540.00 L645.60,540.00 L646.30,540.00 L647.00,540.00 L647.70,540.00 L648.40,540.00 L649.10,540.00 L649.80,540.00 L650.50,540.00 L651.20,540.00 L651.90,540.00 L652.60,540.00 L653.30,540.00 L654.00,540.00 L654.70,540.00 L655.40,540.00 L656.10,540.00 L656.80,540.00 L657.50,540.00 L658.20,540.00 L658.90,540.00 L659.60,540.00 L660.30,540.00 L661.00,540.00 L661.70,540.00 L662.40,540.00 L663.10,540.00 L663.80,540.00 L664.50,540.00 L665.20,540.00 L665.90,540.00 L666.60,540.00 L667.30,540.00 L668.00,540.00 L668.70,540.00 L669.40,540.00 L670.10,540.00 L670.80,540.00 L671.50,540.00 L672.20,540.00 L672.90,540.00 L673.60,540.00 L674.30,540.00 L675.00,540.00 L675.70,540.00 L676.40,540.00 L677.10,540.00 L677.80,540.00 L678.50,540.00 L679.20,540.00 L679.90,540.00 L680.60,540.00 L681.30,540.00 L682.00,540.00 L682.70,540.00 L683.40,540.00 L684.10,540.00 L684.80,540.00 L685.50,540.00 L686.20,540.00 L686.90,540.00 L687.60,540.00 L688.30,540.00 L689.00,540.00 L689.70,540.00 L690.40,540.00 L691.10,540.00 L691.80,540.00 L692.50,540.00 L693.20,540.00 L693.90,540.00 L694.60,540.00 L695.30,540.00 L696.00,540.00 L696.70,540.00 L697.40,540.00 L698.10,540.00 L698.80,540.00 L699.50,540.00 L700.20,540.00 L700.90,540.00 L701.60,540.00 L702.30,540.00 L703.00,540.00 L703.70,540.00 L704.40,540.00 L705.10,540.00 L705.80,540.00 L706.50,540.00 L707.20,540.00 L707.90,540.00 L708.60,540.00 L709.30,540.00 L710.00,540.00 L710.70,540.00 L711.40,540.00 L712.10,540.00 L712.80,540.00 L713.50,540.00 L714.20,540.00 L714.90,540.00 L715.60,540.00 L716.30,540.00 L717.00,540.00 L717.70,540.00 L718.40,540.00 L719.10,540.00 L719.80,540.00 L720.50,540.00 L721.20,540.00 L721.90,540.00 L722.60,540.00 L723.30,540.00 L724.00,540.00 L724.70,540.00 L725.40,540.00 L726.10,540.00 L726.80,540.00 L727.50,540.00 L728.20,540.00 L728.90,540.00 L729.60,540.00 L730.30,540.00 L731.00,540.00 L731.70,540.00 L732.40,540.00 L733.10,540.00 L733.80,540.00 L734.50,540.00 L735.20,540.00 L735.90,540.00 L736.60,540.00 L737.30,540.00 L738.00,540.00 L738.70,540.00 L739.40,540.00 L740.10,540.00 L740.80,540.00 L741.50,540.00 L742.20,540.00 L742.90,540.00 L743.60,540.00 L744.30,540.00 L745.00,540.00 L745.70,540.00 L746.40,540.00 L747.10,540.00 L747.80,540.00 L748.50,540.00 L749.20,540.00 L749.90,540.00 L750.60,540.00 L751.30,540.00 L752.00,540.00 L752.70,540.00 L753.40,540.00 L754.10,540.00 L754.80,540.00 L755.50,540.00 L756.20,540.00 L756.90,540.00 L757.60,540.00 L758.30,540.00 L759.00,540.00 L759.70,540.00 L760.40,540.00 L761.10,540.00 L761.80,540.00 L762.50,540.00 L763.20,540.00 L763.90,540.00 L764.60,540.00 L765.30,540.00 L766.00,540.00 L766.70,540.00 L767.40,540.00 L768.10,540.00 L768.80,540.00 L769.50,540.00 L770.20,540.00 L770.90,540.00 L771.60,540.00 L772.30,540.00 L773.00,540.00 L773.70,540.00 L774.40,540.00 L775.10,540.00 L775.80,540.00 L776.50,540.00 L777.20,540.00 L777.90,540.00 L778.60,540.00 L779.30,540.00 L780.00,540.00 L780.70,540.00 L781.40,540.00 L782.10,540.00 L782.80,540.00 L783.50,540.00 L784.20,540.00 L784.90,540.00 L785.60,540.00 L786.30,540.00 L787.00,540.00 L787.70,540.00 L788.40,540.00 L789.10,540.00 L789.80,540.00 L790.50,540.00 L791.20,540.00 L791.90,540.00 L792.60,540.00 L793.30,540.00 L794.00,540.00 L794.70,540.00 L795.40,540.00 L796.10,540.00 L796.80,540.00 L797.50,540.00 L798.20,540.00 L798.90,540.00 L799.60,540.00 L800.30,540.00 L801.00,540.00 L801.70,540.00 L802.40,540.00 L803.10,540.00 L803.80,540.00 L804.50,540.00 L805.20,540.00 L805.90,540.00 L806.60,540.00 L807.30,540.00 L808.00,540.00 L808.70,540.00 L809.40,540.00 L810.10,540.00 L810.80,540.00 L811.50,540.00 L812.20,540.00 L812.90,540.00 L813.60,540.00 L814.30,540.00 L815.00,540.00 L815.70,540.00 L816.40,540.00 L817.10,540.00 L817.80,540.00 L818.50,540.00 L819.20,540.00 L819.90,540.00 L820.60,540.00 L821.30,540.00 L822.00,540.00 L822.70,540.00 L823.40,540.00 L824.10,540.00 L824.80,540.00 L825.50,540.00 L826.20,540.00 L826.90,540.00 L827.60,540.00 L828.30,540.00 L829.00,540.00 L829.70,540.00 L830.40,540.00 L831.10,540.00 L831.80,540.00 L832.50,540.00 L833.20,540.00 L833.90,540.00 L834.60,540.00 L835.30,540.00 L836.00,540.00 L836.70,540.00 L837.40,540.00 L838.10,540.00 L838.80,540.00 L839.50,540.00 L840.20,540.00 L840.90,540.00 L841.60,540.00 L842.30,540.00 L843.00,540.00 L843.70,540.00 L844.40,540.00 L845.10,540.00 L845.80,540.00 L846.50,540.00 L847.20,540.00 L847.90,540.00 L848.60,540.00 L849.30,540.00 L850.00,540.00 L850.70,540.00 L851.40,540.00 L852.10,540.00 L852.80,540.00 L853.50,540.00 L854.20,540.00 L854.90,540.00 L855.60,540.00 L856.30,540.00 L857.00,540.00 L857.70,540.00 L858.40,540.00 L859.10,540.00 L859.80,540.00 L860.50,540.00 L861.20,540.00 L861.90,540.00 L862.60,540.00 L863.30,540.00 L864.00,540.00 L864.70,540.00 L865.40,540.00 L866.10,540.00 L866.80,540.00 L867.50,540.00 L868.20,540.00 L868.90,540.00 L869.60,540.00 L870.30,540.00 L871.00,540.00 L871.70,540.00 L872.40,540.00 L873.10,540.00 L873.80,540.00 L874.50,540.00 L875.20,540.00 L875.90,540.00 L876.60,540.00 L877.30,540.00 L878.00,540.00 L878.70,540.00 L879.40,540.00 L880.10,540.00 L880.80,540.00 L881.50,540.00 L882.20,540.00 L882.90,540.00 L883.60,540.00 L884.30,540.00 L885.00,540.00 L885.70,540.00 L886.40,540.00 L887.10,540.00 L887.80,540.00 L888.50,540.00 L889.20,540.00 L889.90,540.00 L890.60,540.00 L891.30,540.00 L892.00,540.00 L892.70,540.00 L893.40,540.00 L894.10,540.00 L894.80,540.00 L895.50,540.00 L896.20,540.00 L896.90,540.00 L897.60,540.00 L898.30,540.00 L899.00,540.00 L899.70,540.00 L900.40,540.00 L901.10,540.00 L901.80,540.00 L902.50,540.00 L903.20,540.00 L903.90,540.00 L904.60,540.00 L905.30,540.00 L906.00,540.00 L906.70,540.00 L907.40,540.00 L908.10,540.00 L908.80,540.00 L909.50,540.00 L910.20,540.00 L910.90,540.00 L911.60,540.00 L912.30,540.00 L913.00,540.00 L913.70,540.00 L914.40,540.00 L915.10,540.00 L915.80,540.00 L916.50,540.00 L917.20,540.00 L917.90,540.00 L918.60,540.00 L919.30,540.00 L920.00,540.00 L920.70,540.00 L921.40,540.00 L922.10,540.00 L922.80,540.00 L923.50,540.00 L924.20,540.00 L924.90,540.00 L925.60,540.00 L926.30,540.00 L927.00,540.00 L927.70,540.00 L928.40,540.00 L929.10,540.00 L929.80,540.00 L930.50,540.00 L931.20,540.00 L931.90,540.00 L932.60,540.00 L933.30,540.00 L934.00,540.00 L934.70,540.00 L935.40,540.00 L936.10,540.00 L936.80,540.00 L937.50,540.00 L938.20,540.00 L938.90,540.00 L939.60,540.00 L940.30,540.00 L941.00,540.00 L941.70,540.00 L942.40,540.00 L943.10,540.00 L943.80,540.00 L944.50,540.00 L945.20,540.00 L945.90,540.00 L946.60,540.00 L947.30,540.00 L948.00,540.00 L948.70,540.00 L949.40,540.00 L950.10,540.00 L950.80,540.00 L951.50,540.00 L952.20,540.00 L952.90,540.00 L953.60,540.00 L954.30,540.00 L955.00,540.00 L955.70,540.00 L956.40,540.00 L957.10,540.00 L957.80,540.00 L958.50,540.00 L959.20,540.00 L959.90,540.00 L960.60,540.00 L961.30,540.00 L962.00,540.00 L962.70,540.00 L963.40,540.00 L964.10,540.00 L964.80,540.00 L965.50,540.00 L966.20,540.00 L966.90,540.00 L967.60,540.00 L968.30,540.00 L969.00,540.00 L969.70,540.00 L970.40,540.00 L971.10,540.00 L971.80,540.00 L972.50,540.00 L973.20,540.00 L973.90,540.00 L974.60,540.00 L975.30,540.00 L976.00,540.00 L976.70,540.00 L977.40,540.00 L978.10,540.00 L978.80,540.00 L979.50,540.00 L980.20,540.00 L980.90,540.00 L981.60,540.00 L982.30,540.00 L983.00,540.00 L983.70,540.00 L984.40,540.00 L985.10,540.00 L985.80,540.00 L986.50,540.00 L987.20,540.00 L987.90,540.00 L988.60,540.00 L989.30,540.00 L990.00,540.00 L990.70,540.00 L991.40,540.00 L992.10,540.00 L992.80,540.00 L993.50,540.00 L994.00,540.00 L994.00,540.00 L150.00,540.00 Z" fill="#ff0000" fill-opacity="0.3" stroke="none"/>
<path d="M150.00,540.00 L150.70,540.00 L151.40,540.00 L152.10,539.99 L152.80,539.98 L153.50,539.98 L154.20,539.97 L154.90,539.96 L155.60,539.94 L156.30,539.93 L157.00,539.92 L157.70,539.91 L158.00,539.90 L158.40,539.89 L159.10,539.87 L159.80,539.85 L160.50,539.83 L161.20,539.80 L161.90,539.77 L162.60,539.74 L163.30,539.70 L164.00,539.66 L164.70,539.62 L165.00,539.60 L165.40,539.57 L166.10,539.52 L166.80,539.45 L167.50,539.37 L168.20,539.29 L168.90,539.19 L169.60,539.09 L170.30,538.98 L170.80,538.90 L171.70,538.73 L172.40,538.58 L173.10,538.41 L173.80,538.22 L174.50,538.02 L175.20,537.81 L175.90,537.58 L176.70,537.30 L177.30,537.08 L178.00,536.79 L178.70,536.47 L179.40,536.12 L180.10,535.75 L180.80,535.35 L181.50,534.93 L181.70,534.80 L182.20,534.46 L182.90,533.93 L183.60,533.35 L184.30,532.73 L185.00,532.08 L185.70,531.42 L186.40,530.77 L186.70,530.50 L187.10,530.14 L187.80,529.51 L188.50,528.87 L189.20,528.22 L189.90,527.56 L190.60,526.89 L191.30,526.20 L191.70,525.80 L192.00,525.49 L192.70,524.75 L193.40,523.97 L194.10,523.18 L194.80,522.39 L195.50,521.60 L196.20,520.83 L196.70,520.30 L197.60,519.42 L198.30,518.76 L199.00,518.09 L199.70,517.35 L200.00,517.00 L200.40,516.49 L201.10,515.51 L201.80,514.44 L202.50,513.31 L203.30,512.00 L203.90,511.00 L204.60,509.78 L205.30,508.52 L206.00,507.26 L206.70,506.00 L206.70,506.00 L207.40,504.80 L208.10,503.64 L208.80,502.41 L209.60,500.80 L210.20,499.34 L210.90,497.37 L211.70,495.00 L212.30,493.40 L213.00,491.28 L213.30,490.00 L213.70,486.98 L214.40,479.39 L214.60,477.50 L215.10,473.48 L215.80,468.33 L216.25,465.00 L216.50,463.06 L217.20,457.46 L217.90,452.50 L217.90,452.50 L218.60,448.58 L219.30,445.16 L220.00,441.90 L220.40,440.00 L220.70,438.59 L221.40,435.48 L222.10,432.18 L222.50,430.00 L222.80,428.11 L223.50,422.92 L224.20,417.31 L224.50,415.00 L224.90,412.07 L225.60,407.06 L226.30,401.68 L226.50,400.00 L227.00,395.54 L227.70,388.48 L228.00,385.00 L228.40,379.77 L229.00,370.00 L229.80,350.20 L230.00,345.00 L230.50,332.35 L231.00,320.00 L231.90,298.58 L232.10,295.00 L232.60,286.90 L233.30,280.60 L233.30,280.60 L234.00,286.10 L234.60,295.00 L235.40,311.71 L235.80,320.00 L236.10,325.30 L236.80,337.03 L237.50,345.00 L237.50,345.00 L238.20,349.61 L238.90,353.05 L239.60,354.40 L239.60,354.40 L240.30,354.19 L241.00,353.63 L241.70,352.83 L242.40,351.88 L243.10,350.88 L243.80,349.95 L244.50,349.17 L245.20,348.66 L245.80,348.50 L246.60,351.44 L247.30,357.37 L248.00,364.40 L248.70,370.60 L249.40,374.04 L249.60,374.25 L250.10,373.70 L250.80,371.49 L251.50,368.29 L252.20,364.89 L252.90,362.08 L253.75,360.60 L254.30,360.82 L255.00,361.63 L255.70,362.92 L256.40,364.51 L257.10,366.27 L257.80,368.03 L258.30,369.20 L259.20,371.26 L259.90,372.97 L260.60,374.85 L261.30,376.97 L261.70,378.30 L262.00,379.54 L262.70,383.25 L263.40,386.46 L263.60,387.00 L264.20,387.90 L264.80,388.69 L265.50,389.54 L266.20,390.35 L266.90,391.13 L267.60,391.90 L268.30,392.69 L269.00,393.51 L269.20,393.75 L269.70,394.38 L270.40,395.29 L271.10,396.24 L271.80,397.20 L272.50,398.15 L273.20,399.08 L273.90,399.97 L274.60,400.80 L275.00,401.25 L275.30,401.58 L276.00,402.32 L276.70,402.90 L276.70,402.90 L277.40,403.30 L278.10,403.63 L278.80,403.91 L279.50,404.14 L280.20,404.36 L280.90,404.56 L281.60,404.76 L282.30,404.98 L283.00,405.23 L283.70,405.53 L284.40,405.88 L285.00,406.25 L285.80,406.98 L286.50,407.84 L287.20,408.80 L287.50,409.20 L287.90,409.78 L288.60,410.94 L289.30,412.17 L290.00,413.28 L290.80,414.20 L291.40,414.69 L292.10,415.23 L292.80,415.68 L293.50,415.99 L294.20,416.10 L294.20,416.10 L294.90,416.09 L295.60,416.04 L296.30,415.98 L297.00,415.89 L297.70,415.79 L298.40,415.68 L299.10,415.56 L299.80,415.44 L300.00,415.40 L300.50,415.28 L301.20,415.04 L301.90,414.73 L302.60,414.38 L303.30,414.02 L304.00,413.69 L304.70,413.40 L305.40,413.20 L306.25,413.10 L306.80,413.25 L307.50,413.72 L308.20,414.30 L308.90,414.72 L309.30,414.80 L309.60,414.75 L310.30,414.25 L311.00,413.39 L311.70,412.33 L312.10,411.70 L312.40,411.17 L313.10,409.52 L313.80,407.46 L314.50,405.25 L315.20,403.10 L315.80,401.50 L316.60,399.65 L317.30,398.14 L318.00,396.68 L318.70,395.27 L319.40,393.87 L320.10,392.46 L320.80,391.00 L320.80,391.00 L321.50,389.51 L322.20,388.00 L322.90,386.49 L323.60,384.98 L324.30,383.48 L325.00,382.00 L325.00,382.00 L325.70,380.53 L326.40,379.06 L327.10,377.59 L327.80,376.14 L328.50,374.70 L329.20,373.28 L330.00,371.70 L330.60,370.53 L331.30,369.18 L332.00,367.84 L332.70,366.51 L333.40,365.20 L334.10,363.90 L334.80,362.60 L335.50,361.32 L336.20,360.05 L336.90,358.79 L337.60,357.53 L338.30,356.29 L339.00,355.05 L339.70,353.82 L340.00,353.30 L340.40,352.61 L341.10,351.41 L341.80,350.24 L342.50,349.09 L343.20,347.95 L343.90,346.81 L344.60,345.68 L345.30,344.54 L346.00,343.39 L346.70,342.23 L347.40,341.05 L348.10,339.85 L348.30,339.50 L348.80,338.62 L349.50,337.39 L350.20,336.13 L350.90,334.84 L351.70,333.30 L352.30,332.10 L353.00,330.68 L353.70,329.19 L354.40,327.64 L355.10,325.99 L355.30,325.50 L355.80,324.17 L356.50,322.10 L357.20,319.96 L357.90,317.93 L358.30,316.90 L358.60,316.20 L359.30,314.72 L360.00,313.31 L360.60,312.00 L361.40,310.03 L362.10,308.20 L362.80,306.33 L363.30,305.00 L364.20,302.59 L364.90,300.68 L365.60,298.76 L366.30,296.85 L367.00,294.98 L367.70,293.18 L368.30,291.70 L369.10,289.76 L369.80,288.06 L370.50,286.42 L371.20,284.89 L371.90,283.51 L372.50,282.50 L373.30,281.32 L374.00,280.36 L374.70,279.49 L375.40,278.71 L376.10,278.02 L376.70,277.50 L377.50,276.93 L378.20,276.52 L378.90,276.15 L379.60,275.77 L380.30,275.35 L380.80,275.00 L381.70,274.28 L382.40,273.64 L383.10,272.95 L383.80,272.18 L384.20,271.70 L384.50,271.27 L385.20,269.97 L385.90,268.63 L386.70,267.70 L387.30,267.43 L388.00,267.17 L388.70,266.99 L389.40,266.90 L389.60,266.90 L390.10,266.99 L390.80,267.37 L391.50,267.95 L392.20,268.62 L392.90,269.27 L393.30,269.60 L393.60,269.83 L394.30,270.35 L395.00,270.88 L395.70,271.41 L396.40,271.97 L397.10,272.55 L397.50,272.90 L397.80,273.16 L398.50,273.76 L399.20,274.42 L400.00,275.40 L400.60,276.47 L401.30,278.16 L402.00,280.17 L402.50,281.70 L403.40,284.92 L404.10,287.83 L404.60,290.00 L405.40,293.75 L406.20,293.95 L406.90,294.02 L407.60,294.08 L408.30,294.20 L408.30,294.20 L409.00,294.48 L409.70,294.93 L410.40,295.50 L411.10,296.14 L411.70,296.70 L412.50,297.52 L413.20,298.35 L413.90,299.26 L414.60,300.23 L415.00,300.80 L415.30,301.24 L416.00,302.33 L416.70,303.52 L417.50,305.00 L418.10,306.20 L418.80,307.69 L419.50,309.28 L420.20,310.97 L420.90,312.78 L421.70,315.00 L422.30,316.82 L423.00,319.16 L423.70,321.69 L424.40,324.35 L425.00,326.70 L425.80,329.87 L426.50,332.77 L427.20,335.92 L428.00,340.00 L428.60,343.72 L429.30,348.81 L430.00,354.20 L430.80,360.00 L431.40,363.87 L432.10,368.13 L432.80,372.27 L433.50,376.46 L434.20,380.89 L434.80,385.00 L435.60,391.13 L436.30,396.97 L437.00,403.04 L437.70,409.13 L438.40,415.00 L438.40,415.00 L439.10,420.83 L439.80,426.78 L440.50,432.65 L441.20,438.25 L441.90,443.37 L442.30,446.00 L442.60,447.85 L443.30,451.93 L444.00,455.72 L444.70,459.27 L445.40,462.61 L446.10,465.81 L446.30,466.70 L446.80,468.89 L447.50,471.85 L448.20,474.69 L448.90,477.39 L449.60,479.94 L450.30,482.34 L450.50,483.00 L451.00,484.60 L451.70,486.77 L452.40,488.85 L453.10,490.86 L453.80,492.78 L454.50,494.63 L455.20,496.41 L455.90,498.12 L456.70,500.00 L457.30,501.36 L458.00,502.90 L458.70,504.39 L459.40,505.84 L460.10,507.23 L460.80,508.58 L461.50,509.88 L462.20,511.13 L462.90,512.33 L463.30,513.00 L463.60,513.49 L464.30,514.62 L465.00,515.73 L465.70,516.80 L466.40,517.84 L467.10,518.84 L467.80,519.80 L468.50,520.71 L469.20,521.57 L470.00,522.50 L470.60,523.16 L471.30,523.91 L472.00,524.64 L472.70,525.35 L473.40,526.03 L474.10,526.69 L474.80,527.32 L475.50,527.92 L476.20,528.49 L476.90,529.03 L477.60,529.53 L478.30,530.00 L478.30,530.00 L479.00,530.45 L479.70,530.88 L480.40,531.30 L481.10,531.70 L481.80,532.09 L482.50,532.46 L483.20,532.81 L483.90,533.14 L484.60,533.44 L485.30,533.72 L486.00,533.98 L486.70,534.20 L486.70,534.20 L487.40,534.41 L488.10,534.60 L488.80,534.79 L489.50,534.97 L490.20,535.14 L490.90,535.30 L491.60,535.46 L492.30,535.60 L493.00,535.74 L493.70,535.86 L494.40,535.98 L495.10,536.09 L495.80,536.19 L496.50,536.28 L496.70,536.30 L497.20,536.36 L497.90,536.44 L498.60,536.52 L499.30,536.59 L500.00,536.67 L500.70,536.74 L501.40,536.80 L502.10,536.86 L502.80,536.92 L503.50,536.97 L504.20,537.01 L504.90,537.05 L505.60,537.07 L506.30,537.09 L506.70,537.10 L507.00,537.10 L507.70,537.11 L508.40,537.12 L509.10,537.13 L509.80,537.14 L510.50,537.14 L511.20,537.15 L511.90,537.16 L512.60,537.16 L513.30,537.17 L514.00,537.17 L514.70,537.18 L515.40,537.18 L516.10,537.19 L516.80,537.19 L517.50,537.20 L518.20,537.20 L518.90,537.21 L519.60,537.21 L520.30,537.21 L521.00,537.22 L521.70,537.22 L522.40,537.22 L523.10,537.23 L523.80,537.23 L524.50,537.23 L525.20,537.23 L525.90,537.24 L526.60,537.24 L527.30,537.24 L528.00,537.24 L528.70,537.25 L529.40,537.25 L530.10,537.25 L530.80,537.25 L531.50,537.26 L532.20,537.26 L532.90,537.26 L533.60,537.26 L534.30,537.27 L535.00,537.27 L535.70,537.27 L536.40,537.28 L537.10,537.28 L537.80,537.29 L538.50,537.29 L539.20,537.29 L540.00,537.30 L540.60,537.30 L541.30,537.31 L542.00,537.31 L542.70,537.32 L543.40,537.32 L544.10,537.33 L544.80,537.33 L545.50,537.33 L546.20,537.34 L546.90,537.34 L547.60,537.35 L548.30,537.35 L549.00,537.35 L549.70,537.36 L550.40,537.36 L551.10,537.37 L551.80,537.37 L552.50,537.38 L553.20,537.38 L553.90,537.38 L554.60,537.39 L555.30,537.40 L556.00,537.40 L556.70,537.41 L557.40,537.41 L558.10,537.42 L558.80,537.43 L559.50,537.43 L560.20,537.44 L560.90,537.45 L561.60,537.46 L562.30,537.46 L563.00,537.47 L563.70,537.48 L564.40,537.49 L565.00,537.50 L565.80,537.51 L566.50,537.53 L567.20,537.55 L567.90,537.58 L568.60,537.60 L569.30,537.63 L570.00,537.67 L570.70,537.70 L571.40,537.74 L572.10,537.78 L572.80,537.82 L573.50,537.87 L574.20,537.91 L574.90,537.96 L575.60,538.00 L576.30,538.05 L577.00,538.10 L577.70,538.15 L578.40,538.19 L579.10,538.24 L579.80,538.29 L580.00,538.30 L580.50,538.33 L581.20,538.38 L581.90,538.44 L582.60,538.49 L583.30,538.55 L584.00,538.61 L584.70,538.67 L585.40,538.73 L586.10,538.79 L586.80,538.85 L587.50,538.91 L588.20,538.97 L588.90,539.02 L589.60,539.07 L590.00,539.10 L590.30,539.12 L591.00,539.17 L591.70,539.22 L592.40,539.27 L593.10,539.32 L593.80,539.37 L594.50,539.41 L595.20,539.46 L595.90,539.50 L596.60,539.55 L597.30,539.58 L598.00,539.62 L598.70,539.65 L599.40,539.68 L600.00,539.70 L600.80,539.72 L601.50,539.75 L602.20,539.77 L602.90,539.79 L603.60,539.81 L604.30,539.83 L605.00,539.85 L605.70,539.87 L606.40,539.88 L607.10,539.90 L607.80,539.91 L608.50,539.93 L609.20,539.94 L609.90,539.96 L610.60,539.97 L611.30,539.98 L612.00,539.98 L612.70,539.99 L613.40,540.00 L614.10,540.00 L614.80,540.00 L615.00,540.00 L615.50,540.00 L616.20,540.00 L616.90,540.00 L617.60,540.00 L618.30,540.00 L619.00,540.00 L619.70,540.00 L620.40,540.00 L621.10,540.00 L621.80,540.00 L622.50,540.00 L623.20,540.00 L623.90,540.00 L624.60,540.00 L625.30,540.00 L626.00,540.00 L626.70,540.00 L627.40,540.00 L628.10,540.00 L628.80,540.00 L629.50,540.00 L630.20,540.00 L630.90,540.00 L631.60,540.00 L632.30,540.00 L633.00,540.00 L633.70,540.00 L634.40,540.00 L635.10,540.00 L635.80,540.00 L636.50,540.00 L637.20,540.00 L637.90,540.00 L638.60,540.00 L639.30,540.00 L640.00,540.00 L640.70,540.00 L641.40,540.00 L642.10,540.00 L642.80,540.00 L643.50,540.00 L644.20,540.00 L644.90,540.00 L645.60,540.00 L646.30,540.00 L647.00,540.00 L647.70,540.00 L648.40,540.00 L649.10,540.00 L649.80,540.00 L650.50,540.00 L651.20,540.00 L651.90,540.00 L652.60,540.00 L653.30,540.00 L654.00,540.00 L654.70,540.00 L655.40,540.00 L656.10,540.00 L656.80,540.00 L657.50,540.00 L658.20,540.00 L658.90,540.00 L659.60,540.00 L660.30,540.00 L661.00,540.00 L661.70,540.00 L662.40,540.00 L663.10,540.00 L663.80,540.00 L664.50,540.00 L665.20,540.00 L665.90,540.00 L666.60,540.00 L667.30,540.00 L668.00,540.00 L668.70,540.00 L669.40,540.00 L670.10,540.00 L670.80,540.00 L671.50,540.00 L672.20,540.00 L672.90,540.00 L673.60,540.00 L674.30,540.00 L675.00,540.00 L675.70,540.00 L676.40,540.00 L677.10,540.00 L677.80,540.00 L678.50,540.00 L679.20,540.00 L679.90,540.00 L680.60,540.00 L681.30,540.00 L682.00,540.00 L682.70,540.00 L683.40,540.00 L684.10,540.00 L684.80,540.00 L685.50,540.00 L686.20,540.00 L686.90,540.00 L687.60,540.00 L688.30,540.00 L689.00,540.00 L689.70,540.00 L690.40,540.00 L691.10,540.00 L691.80,540.00 L692.50,540.00 L693.20,540.00 L693.90,540.00 L694.60,540.00 L695.30,540.00 L696.00,540.00 L696.70,540.00 L697.40,540.00 L698.10,540.00 L698.80,540.00 L699.50,540.00 L700.20,540.00 L700.90,540.00 L701.60,540.00 L702.30,540.00 L703.00,540.00 L703.70,540.00 L704.40,540.00 L705.10,540.00 L705.80,540.00 L706.50,540.00 L707.20,540.00 L707.90,540.00 L708.60,540.00 L709.30,540.00 L710.00,540.00 L710.70,540.00 L711.40,540.00 L712.10,540.00 L712.80,540.00 L713.50,540.00 L714.20,540.00 L714.90,540.00 L715.60,540.00 L716.30,540.00 L717.00,540.00 L717.70,540.00 L718.40,540.00 L719.10,540.00 L719.80,540.00 L720.50,540.00 L721.20,540.00 L721.90,540.00 L722.60,540.00 L723.30,540.00 L724.00,540.00 L724.70,540.00 L725.40,540.00 L726.10,540.00 L726.80,540.00 L727.50,540.00 L728.20,540.00 L728.90,540.00 L729.60,540.00 L730.30,540.00 L731.00,540.00 L731.70,540.00 L732.40,540.00 L733.10,540.00 L733.80,540.00 L734.50,540.00 L735.20,540.00 L735.90,540.00 L736.60,540.00 L737.30,540.00 L738.00,540.00 L738.70,540.00 L739.40,540.00 L740.10,540.00 L740.80,540.00 L741.50,540.00 L742.20,540.00 L742.90,540.00 L743.60,540.00 L744.30,540.00 L745.00,540.00 L745.70,540.00 L746.40,540.00 L747.10,540.00 L747.80,540.00 L748.50,540.00 L749.20,540.00 L749.90,540.00 L750.60,540.00 L751.30,540.00 L752.00,540.00 L752.70,540.00 L753.40,540.00 L754.10,540.00 L754.80,540.00 L755.50,540.00 L756.20,540.00 L756.90,540.00 L757.60,540.00 L758.30,540.00 L759.00,540.00 L759.70,540.00 L760.40,540.00 L761.10,540.00 L761.80,540.00 L762.50,540.00 L763.20,540.00 L763.90,540.00 L764.60,540.00 L765.30,540.00 L766.00,540.00 L766.70,540.00 L767.40,540.00 L768.10,540.00 L768.80,540.00 L769.50,540.00 L770.20,540.00 L770.90,540.00 L771.60,540.00 L772.30,540.00 L773.00,540.00 L773.70,540.00 L774.40,540.00 L775.10,540.00 L775.80,540.00 L776.50,540.00 L777.20,540.00 L777.90,540.00 L778.60,540.00 L779.30,540.00 L780.00,540.00 L780.70,540.00 L781.40,540.00 L782.10,540.00 L782.80,540.00 L783.50,540.00 L784.20,540.00 L784.90,540.00 L785.60,540.00 L786.30,540.00 L787.00,540.00 L787.70,540.00 L788.40,540.00 L789.10,540.00 L789.80,540.00 L790.50,540.00 L791.20,540.00 L791.90,540.00 L792.60,540.00 L793.30,540.00 L794.00,540.00 L794.70,540.00 L795.40,540.00 L796.10,540.00 L796.80,540.00 L797.50,540.00 L798.20,540.00 L798.90,540.00 L799.60,540.00 L800.30,540.00 L801.00,540.00 L801.70,540.00 L802.40,540.00 L803.10,540.00 L803.80,540.00 L804.50,540.00 L805.20,540.00 L805.90,540.00 L806.60,540.00 L807.30,540.00 L808.00,540.00 L808.70,540.00 L809.40,540.00 L810.10,540.00 L810.80,540.00 L811.50,540.00 L812.20,540.00 L812.90,540.00 L813.60,540.00 L814.30,540.00 L815.00,540.00 L815.70,540.00 L816.40,540.00 L817.10,540.00 L817.80,540.00 L818.50,540.00 L819.20,540.00 L819.90,540.00 L820.60,540.00 L821.30,540.00 L822.00,540.00 L822.70,540.00 L823.40,540.00 L824.10,540.00 L824.80,540.00 L825.50,540.00 L826.20,540.00 L826.90,540.00 L827.60,540.00 L828.30,540.00 L829.00,540.00 L829.70,540.00 L830.40,540.00 L831.10,540.00 L831.80,540.00 L832.50,540.00 L833.20,540.00 L833.90,540.00 L834.60,540.00 L835.30,540.00 L836.00,540.00 L836.70,540.00 L837.40,540.00 L838.10,540.00 L838.80,540.00 L839.50,540.00 L840.20,540.00 L840.90,540.00 L841.60,540.00 L842.30,540.00 L843.00,540.00 L843.70,540.00 L844.40,540.00 L845.10,540.00 L845.80,540.00 L846.50,540.00 L847.20,540.00 L847.90,540.00 L848.60,540.00 L849.30,540.00 L850.00,540.00 L850.70,540.00 L851.40,540.00 L852.10,540.00 L852.80,540.00 L853.50,540.00 L854.20,540.00 L854.90,540.00 L855.60,540.00 L856.30,540.00 L857.00,540.00 L857.70,540.00 L858.40,540.00 L859.10,540.00 L859.80,540.00 L860.50,540.00 L861.20,540.00 L861.90,540.00 L862.60,540.00 L863.30,540.00 L864.00,540.00 L864.70,540.00 L865.40,540.00 L866.10,540.00 L866.80,540.00 L867.50,540.00 L868.20,540.00 L868.90,540.00 L869.60,540.00 L870.30,540.00 L871.00,540.00 L871.70,540.00 L872.40,540.00 L873.10,540.00 L873.80,540.00 L874.50,540.00 L875.20,540.00 L875.90,540.00 L876.60,540.00 L877.30,540.00 L878.00,540.00 L878.70,540.00 L879.40,540.00 L880.10,540.00 L880.80,540.00 L881.50,540.00 L882.20,540.00 L882.90,540.00 L883.60,540.00 L884.30,540.00 L885.00,540.00 L885.70,540.00 L886.40,540.00 L887.10,540.00 L887.80,540.00 L888.50,540.00 L889.20,540.00 L889.90,540.00 L890.60,540.00 L891.30,540.00 L892.00,540.00 L892.70,540.00 L893.40,540.00 L894.10,540.00 L894.80,540.00 L895.50,540.00 L896.20,540.00 L896.90,540.00 L897.60,540.00 L898.30,540.00 L899.00,540.00 L899.70,540.00 L900.40,540.00 L901.10,540.00 L901.80,540.00 L902.50,540.00 L903.20,540.00 L903.90,540.00 L904.60,540.00 L905.30,540.00 L906.00,540.00 L906.70,540.00 L907.40,540.00 L908.10,540.00 L908.80,540.00 L909.50,540.00 L910.20,540.00 L910.90,540.00 L911.60,540.00 L912.30,540.00 L913.00,540.00 L913.70,540.00 L914.40,540.00 L915.10,540.00 L915.80,540.00 L916.50,540.00 L917.20,540.00 L917.90,540.00 L918.60,540.00 L919.30,540.00 L920.00,540.00 L920.70,540.00 L921.40,540.00 L922.10,540.00 L922.80,540.00 L923.50,540.00 L924.20,540.00 L924.90,540.00 L925.60,540.00 L926.30,540.00 L927.00,540.00 L927.70,540.00 L928.40,540.00 L929.10,540.00 L929.80,540.00 L930.50,540.00 L931.20,540.00 L931.90,540.00 L932.60,540.00 L933.30,540.00 L934.00,540.00 L934.70,540.00 L935.40,540.00 L936.10,540.00 L936.80,540.00 L937.50,540.00 L938.20,540.00 L938.90,540.00 L939.60,540.00 L940.30,540.00 L941.00,540.00 L941.70,540.00 L942.40,540.00 L943.10,540.00 L943.80,540.00 L944.50,540.00 L945.20,540.00 L945.90,540.00 L946.60,540.00 L947.30,540.00 L948.00,540.00 L948.70,540.00 L949.40,540.00 L950.10,540.00 L950.80,540.00 L951.50,540.00 L952.20,540.00 L952.90,540.00 L953.60,540.00 L954.30,540.00 L955.00,540.00 L955.70,540.00 L956.40,540.00 L957.10,540.00 L957.80,540.00 L958.50,540.00 L959.20,540.00 L959.90,540.00 L960.60,540.00 L961.30,540.00 L962.00,540.00 L962.70,540.00 L963.40,540.00 L964.10,540.00 L964.80,540.00 L965.50,540.00 L966.20,540.00 L966.90,540.00 L967.60,540.00 L968.30,540.00 L969.00,540.00 L969.70,540.00 L970.40,540.00 L971.10,540.00 L971.80,540.00 L972.50,540.00 L973.20,540.00 L973.90,540.00 L974.60,540.00 L975.30,540.00 L976.00,540.00 L976.70,540.00 L977.40,540.00 L978.10,540.00 L978.80,540.00 L979.50,540.00 L980.20,540.00 L980.90,540.00 L981.60,540.00 L982.30,540.00 L983.00,540.00 L983.70,540.00 L984.40,540.00 L985.10,540.00 L985.80,540.00 L986.50,540.00 L987.20,540.00 L987.90,540.00 L988.60,540.00 L989.30,540.00 L990.00,540.00 L990.70,540.00 L991.40,540.00 L992.10,540.00 L992.80,540.00 L993.50,540.00 L994.00,540.00 L994.00,540.00 L150.00,540.00 Z" fill="#008000" fill-opacity="0.1" stroke="none"/>
<line x1="185.50" y1="60" x2="185.50" y2="540" stroke="#bfbf00" stroke-width="2.78"/>
<path d="M150.00,540.00 L150.70,529.27 L151.25,520.00 L152.10,502.52 L152.50,496.00 L152.80,492.86 L153.50,487.00 L153.50,487.00 L154.20,480.33 L154.90,473.49 L155.60,466.83 L155.80,465.00 L156.30,460.58 L157.00,454.60 L157.70,448.77 L158.40,442.95 L158.75,440.00 L159.10,437.10 L159.80,431.56 L160.50,425.97 L161.20,419.89 L161.70,415.00 L162.60,404.02 L162.90,400.00 L163.30,394.10 L163.60,390.00 L164.00,385.63 L164.70,379.09 L165.50,372.00 L166.10,366.58 L166.80,360.43 L167.50,354.00 L167.90,350.00 L168.20,346.74 L168.90,338.34 L169.60,329.67 L170.00,325.00 L170.30,321.21 L171.00,311.80 L171.60,308.00 L172.40,313.84 L173.10,320.31 L173.30,320.80 L173.80,319.46 L174.50,314.12 L175.20,306.61 L175.80,300.00 L176.60,290.00 L176.60,290.00 L177.40,267.60 L178.00,268.52 L178.70,271.23 L179.40,274.60 L180.10,277.48 L180.80,278.70 L180.80,278.70 L181.50,277.42 L182.20,274.57 L182.90,271.62 L183.70,270.00 L184.30,270.32 L185.00,271.27 L185.70,272.46 L186.40,273.47 L187.10,273.90 L187.10,273.90 L187.80,264.63 L188.40,250.00 L189.20,220.49 L189.50,215.60 L189.90,215.64 L190.60,215.76 L191.00,215.80 L191.30,215.72 L192.00,215.15 L192.70,214.64 L192.90,214.60 L193.40,215.54 L194.10,219.09 L194.40,221.00 L194.80,225.74 L195.00,227.30 L195.50,228.07 L196.20,228.57 L196.60,229.20 L196.90,231.13 L197.40,236.00 L198.30,242.61 L199.00,246.17 L199.30,246.60 L199.70,246.01 L200.40,242.77 L201.10,237.99 L201.80,233.17 L202.00,232.00 L202.50,228.65 L203.20,223.84 L203.75,222.20 L204.60,226.49 L205.30,231.64 L205.70,232.80 L206.00,231.69 L206.70,223.70 L207.40,215.71 L207.70,214.60 L208.10,245.00 L208.10,245.00 L208.80,259.70 L209.60,270.00 L210.20,278.40 L210.90,288.38 L211.25,295.00 L211.60,306.70 L211.80,311.70 L212.30,316.79 L213.00,319.80 L213.00,319.80 L213.70,319.70 L214.40,319.40 L215.10,318.89 L215.50,318.50 L215.80,316.88 L216.50,306.63 L217.30,295.00 L217.90,290.61 L218.60,286.55 L219.40,282.50 L220.00,279.64 L220.70,276.61 L221.40,273.74 L222.10,270.85 L222.30,270.00 L222.80,267.97 L223.50,265.34 L224.20,262.56 L224.90,259.21 L225.20,257.50 L225.60,254.77 L226.30,248.41 L226.60,245.00 L227.00,238.42 L227.20,235.00 L227.70,228.26 L227.90,225.00 L228.30,215.00 L229.00,205.00 L229.60,195.00 L230.50,178.00 L230.50,178.00 L231.20,166.94 L231.90,156.95 L232.60,151.34 L232.80,151.00 L233.30,153.26 L234.00,161.80 L234.70,172.57 L235.10,178.00 L235.40,181.68 L236.10,190.38 L236.50,194.86 L236.80,198.59 L237.00,200.16 L237.50,201.88 L238.20,203.40 L238.50,205.71 L238.90,206.72 L239.60,208.47 L239.90,212.10 L240.30,213.44 L240.50,213.88 L241.00,218.53 L241.70,219.25 L241.70,219.25 L242.40,224.89 L242.70,225.90 L243.20,228.30 L243.80,233.96 L244.50,234.32 L244.50,234.32 L245.20,240.19 L245.50,241.14 L245.90,241.42 L246.60,243.30 L246.60,246.70 L247.30,248.50 L248.00,248.86 L248.50,251.60 L248.80,271.70 L249.30,296.70 L250.10,318.30 L250.10,318.30 L250.50,341.70 L250.90,354.30 L251.60,346.70 L252.20,332.60 L252.90,326.18 L253.10,325.50 L253.60,326.90 L254.30,333.42 L254.60,333.83 L255.00,340.41 L255.70,343.30 L255.70,346.70 L256.40,348.76 L257.00,350.30 L257.80,357.04 L258.30,358.03 L259.20,359.82 L259.90,366.99 L260.50,371.02 L261.00,376.60 L261.05,391.70 L261.30,395.38 L262.00,406.90 L262.30,407.81 L262.70,408.11 L263.40,409.68 L264.10,414.98 L264.80,415.54 L265.50,415.82 L265.70,415.92 L266.20,420.53 L266.90,420.95 L267.60,426.34 L268.30,426.78 L269.00,432.35 L269.70,432.71 L270.00,432.84 L270.40,435.96 L271.10,436.26 L271.80,439.84 L272.50,440.11 L273.20,442.83 L273.90,442.99 L274.60,443.98 L274.80,443.99 L275.30,441.83 L276.00,440.22 L276.70,439.79 L277.30,437.70 L278.10,428.03 L278.90,426.00 L279.50,427.66 L280.20,429.30 L280.20,432.70 L280.90,433.27 L281.60,433.50 L281.60,433.50 L282.30,436.95 L283.00,437.12 L283.70,437.29 L284.40,440.68 L285.10,440.84 L285.80,441.02 L286.30,441.16 L287.20,445.99 L287.90,446.25 L288.60,446.52 L289.30,450.24 L289.70,450.38 L290.00,452.22 L290.70,452.46 L291.40,456.33 L292.20,456.62 L292.80,456.86 L293.50,461.13 L294.20,461.41 L295.00,463.97 L295.60,464.04 L296.30,464.09 L297.00,464.13 L297.70,465.43 L298.40,465.48 L299.00,465.54 L299.80,465.75 L300.50,469.96 L301.20,470.22 L301.90,470.37 L302.10,470.25 L302.60,470.20 L303.30,469.99 L304.00,469.42 L304.70,463.99 L305.40,463.69 L306.10,463.50 L306.50,462.20 L306.80,462.26 L307.50,467.82 L308.30,471.57 L308.90,475.14 L309.60,483.68 L310.00,483.88 L310.30,483.88 L311.00,483.85 L311.70,483.24 L312.40,483.17 L313.10,483.08 L313.80,481.68 L314.50,481.58 L315.20,480.30 L315.90,480.20 L316.70,478.73 L317.30,478.65 L318.00,478.56 L318.70,476.83 L319.40,476.73 L320.10,476.62 L320.80,474.75 L321.50,474.64 L322.20,474.54 L322.90,472.41 L323.60,472.31 L324.30,472.21 L325.00,472.12 L325.00,471.04 L325.70,470.95 L326.40,469.82 L327.10,469.72 L327.80,468.11 L328.50,468.02 L329.20,467.93 L329.90,467.85 L330.60,465.88 L331.30,465.80 L332.00,465.72 L332.70,465.65 L333.30,464.02 L334.10,463.95 L334.80,463.88 L335.50,463.82 L336.20,462.76 L336.90,462.71 L337.60,461.74 L338.30,461.69 L339.00,461.64 L339.70,461.58 L340.40,460.58 L341.10,460.52 L341.70,459.45 L342.50,459.38 L343.20,459.32 L343.90,459.25 L344.60,457.65 L345.30,457.57 L346.00,457.50 L346.70,457.41 L346.70,455.59 L347.40,455.48 L348.10,455.34 L348.80,455.18 L349.50,452.28 L350.20,452.10 L350.90,449.50 L351.70,449.31 L352.30,449.19 L353.00,446.74 L353.70,446.61 L354.40,446.49 L355.10,443.70 L355.80,443.57 L356.50,443.42 L357.20,443.26 L357.90,439.60 L358.30,439.48 L358.60,439.39 L359.30,439.10 L360.00,433.48 L360.70,432.64 L361.40,431.78 L362.10,425.94 L362.80,425.60 L363.30,425.40 L364.20,420.52 L364.90,420.28 L365.60,420.05 L366.30,415.60 L367.00,415.40 L367.70,415.20 L368.40,415.02 L369.10,411.86 L369.80,411.71 L370.00,410.38 L370.50,410.28 L371.20,410.15 L371.90,408.33 L372.60,408.21 L373.30,406.87 L374.00,406.77 L374.70,404.99 L375.40,404.89 L376.10,404.79 L376.80,404.70 L377.50,402.66 L378.30,402.55 L378.90,402.47 L379.60,400.73 L380.30,400.63 L381.00,400.54 L381.70,398.91 L382.40,398.82 L383.00,398.75 L383.80,397.29 L384.50,397.19 L385.20,396.08 L385.90,396.01 L386.70,395.90 L387.30,395.93 L388.00,396.03 L388.70,399.20 L389.40,399.39 L390.10,399.60 L390.80,399.86 L391.60,403.41 L392.20,403.56 L392.90,406.09 L393.60,406.26 L394.30,406.44 L395.00,409.92 L395.70,410.12 L396.50,410.37 L397.10,414.50 L397.80,414.75 L398.50,415.02 L399.20,420.23 L399.90,422.16 L400.50,422.49 L401.30,425.58 L402.00,432.62 L402.50,432.98 L403.40,437.71 L404.10,437.99 L404.80,440.90 L405.00,440.97 L405.50,441.14 L406.20,443.56 L406.90,443.81 L407.60,445.70 L408.30,445.98 L409.00,448.04 L409.70,448.37 L410.40,448.77 L411.10,450.92 L411.70,451.39 L412.50,454.15 L413.20,454.87 L413.90,455.72 L414.60,459.03 L415.30,460.22 L416.00,461.26 L416.70,462.59 L416.70,463.92 L417.40,465.05 L418.10,466.33 L418.80,469.23 L419.50,470.79 L420.20,472.25 L420.90,473.93 L421.60,476.36 L422.30,477.88 L422.90,479.14 L423.70,480.91 L424.40,482.65 L425.10,484.23 L425.80,485.82 L426.50,487.39 L427.20,488.93 L427.90,490.44 L428.60,491.90 L429.30,493.31 L430.00,494.67 L430.70,495.95 L431.40,497.16 L432.10,498.29 L432.80,499.32 L433.30,500.00 L434.20,501.10 L434.90,501.86 L435.60,502.57 L436.30,503.23 L437.00,503.87 L437.70,504.50 L438.40,505.14 L439.10,505.79 L439.80,506.49 L440.00,506.70 L440.50,507.23 L441.20,508.00 L441.90,508.79 L442.60,509.58 L443.30,510.39 L444.00,511.21 L444.70,512.03 L445.40,512.85 L446.10,513.67 L446.80,514.48 L447.50,515.28 L448.20,516.07 L448.90,516.84 L449.60,517.58 L450.00,518.00 L450.30,518.31 L451.00,519.04 L451.70,519.78 L452.40,520.52 L453.10,521.26 L453.80,522.00 L454.50,522.73 L455.20,523.45 L455.90,524.16 L456.60,524.85 L457.30,525.51 L458.00,526.16 L458.70,526.77 L459.40,527.35 L460.10,527.90 L460.80,528.41 L461.50,528.88 L461.70,529.00 L462.20,529.30 L462.90,529.72 L463.60,530.13 L464.30,530.53 L465.00,530.92 L465.70,531.30 L466.40,531.66 L467.10,532.01 L467.80,532.35 L468.50,532.68 L469.20,533.00 L469.90,533.29 L470.60,533.58 L471.30,533.85 L472.00,534.10 L472.70,534.34 L473.40,534.56 L474.10,534.76 L474.80,534.95 L475.00,535.00 L475.50,535.12 L476.20,535.28 L476.90,535.44 L477.60,535.59 L478.30,535.73 L479.00,535.87 L479.70,536.01 L480.40,536.13 L481.10,536.25 L481.80,536.37 L482.50,536.48 L483.20,536.59 L483.90,536.70 L484.60,536.80 L485.30,536.90 L486.00,536.99 L486.70,537.09 L487.40,537.18 L488.10,537.27 L488.80,537.35 L489.50,537.44 L490.00,537.50 L490.90,537.61 L491.60,537.69 L492.30,537.77 L493.00,537.85 L493.70,537.93 L494.40,538.00 L495.10,538.08 L495.80,538.15 L496.50,538.22 L497.20,538.29 L497.90,538.36 L498.60,538.43 L499.30,538.49 L500.00,538.56 L500.70,538.62 L501.40,538.67 L502.10,538.73 L502.80,538.78 L503.50,538.84 L504.20,538.89 L504.90,538.93 L505.60,538.98 L506.00,539.00 L506.30,539.02 L507.00,539.06 L507.70,539.10 L508.40,539.14 L509.10,539.18 L509.80,539.23 L510.50,539.27 L511.20,539.31 L511.90,539.35 L512.60,539.39 L513.30,539.43 L514.00,539.47 L514.70,539.51 L515.40,539.55 L516.10,539.58 L516.80,539.62 L517.50,539.65 L518.20,539.69 L518.90,539.72 L519.60,539.75 L520.30,539.78 L521.00,539.81 L521.70,539.84 L522.40,539.86 L523.10,539.88 L523.80,539.90 L524.50,539.92 L525.20,539.94 L525.90,539.96 L526.60,539.97 L527.30,539.98 L528.00,539.99 L528.70,540.00 L529.40,540.00 L530.00,540.00 L530.80,540.00 L531.50,540.00 L532.20,540.00 L532.90,540.00 L533.60,540.00 L534.30,540.00 L535.00,540.00 L535.70,540.00 L536.40,540.00 L537.10,540.00 L537.80,540.00 L538.50,540.00 L539.20,540.00 L539.90,540.00 L540.60,540.00 L541.30,540.00 L542.00,540.00 L542.70,540.00 L543.40,540.00 L544.10,540.00 L544.80,540.00 L545.50,540.00 L546.20,540.00 L546.90,540.00 L547.60,540.00 L548.30,540.00 L549.00,540.00 L549.70,540.00 L550.40,540.00 L551.10,540.00 L551.80,540.00 L552.50,540.00 L553.20,540.00 L553.90,540.00 L554.60,540.00 L555.30,540.00 L556.00,540.00 L556.70,540.00 L557.40,540.00 L558.10,540.00 L558.80,540.00 L559.50,540.00 L560.20,540.00 L560.90,540.00 L561.60,540.00 L562.30,540.00 L563.00,540.00 L563.70,540.00 L564.40,540.00 L565.10,540.00 L565.80,540.00 L566.50,540.00 L567.20,540.00 L567.90,540.00 L568.60,540.00 L569.30,540.00 L570.00,540.00 L570.70,540.00 L571.40,540.00 L572.10,540.00 L572.80,540.00 L573.50,540.00 L574.20,540.00 L574.90,540.00 L575.60,540.00 L576.30,540.00 L577.00,540.00 L577.70,540.00 L578.40,540.00 L579.10,540.00 L579.80,540.00 L580.50,540.00 L581.20,540.00 L581.90,540.00 L582.60,540.00 L583.30,540.00 L584.00,540.00 L584.70,540.00 L585.40,540.00 L586.10,540.00 L586.80,540.00 L587.50,540.00 L588.20,540.00 L588.90,540.00 L589.60,540.00 L590.30,540.00 L591.00,540.00 L591.70,540.00 L592.40,540.00 L593.10,540.00 L593.80,540.00 L594.50,540.00 L595.20,540.00 L595.90,540.00 L596.60,540.00 L597.30,540.00 L598.00,540.00 L598.70,540.00 L599.40,540.00 L600.10,540.00 L600.80,540.00 L601.50,540.00 L602.20,540.00 L602.90,540.00 L603.60,540.00 L604.30,540.00 L605.00,540.00 L605.70,540.00 L606.40,540.00 L607.10,540.00 L607.80,540.00 L608.50,540.00 L609.20,540.00 L609.90,540.00 L610.60,540.00 L611.30,540.00 L612.00,540.00 L612.70,540.00 L613.40,540.00 L614.10,540.00 L614.80,540.00 L615.50,540.00 L616.20,540.00 L616.90,540.00 L617.60,540.00 L618.30,540.00 L619.00,540.00 L619.70,540.00 L620.40,540.00 L621.10,540.00 L621.80,540.00 L622.50,540.00 L623.20,540.00 L623.90,540.00 L624.60,540.00 L625.30,540.00 L626.00,540.00 L626.70,540.00 L627.40,540.00 L628.10,540.00 L628.80,540.00 L629.50,540.00 L630.20,540.00 L630.90,540.00 L631.60,540.00 L632.30,540.00 L633.00,540.00 L633.70,540.00 L634.40,540.00 L635.10,540.00 L635.80,540.00 L636.50,540.00 L637.20,540.00 L637.90,540.00 L638.60,540.00 L639.30,540.00 L640.00,540.00 L640.70,540.00 L641.40,540.00 L642.10,540.00 L642.80,540.00 L643.50,540.00 L644.20,540.00 L644.90,540.00 L645.60,540.00 L646.30,540.00 L647.00,540.00 L647.70,540.00 L648.40,540.00 L649.10,540.00 L649.80,540.00 L650.50,540.00 L651.20,540.00 L651.90,540.00 L652.60,540.00 L653.30,540.00 L654.00,540.00 L654.70,540.00 L655.40,540.00 L656.10,540.00 L656.80,540.00 L657.50,540.00 L658.20,540.00 L658.90,540.00 L659.60,540.00 L660.30,540.00 L661.00,540.00 L661.70,540.00 L662.40,540.00 L663.10,540.00 L663.80,540.00 L664.50,540.00 L665.20,540.00 L665.90,540.00 L666.60,540.00 L667.30,540.00 L668.00,540.00 L668.70,540.00 L669.40,540.00 L670.10,540.00 L670.80,540.00 L671.50,540.00 L672.20,540.00 L672.90,540.00 L673.60,540.00 L674.30,540.00 L675.00,540.00 L675.70,540.00 L676.40,540.00 L677.10,540.00 L677.80,540.00 L678.50,540.00 L679.20,540.00 L679.90,540.00 L680.60,540.00 L681.30,540.00 L682.00,540.00 L682.70,540.00 L683.40,540.00 L684.10,540.00 L684.80,540.00 L685.50,540.00 L686.20,540.00 L686.90,540.00 L687.60,540.00 L688.30,540.00 L689.00,540.00 L689.70,540.00 L690.40,540.00 L691.10,540.00 L691.80,540.00 L692.50,540.00 L693.20,540.00 L693.90,540.00 L694.60,540.00 L695.30,540.00 L696.00,540.00 L696.70,540.00 L697.40,540.00 L698.10,540.00 L698.80,540.00 L699.50,540.00 L700.20,540.00 L700.90,540.00 L701.60,540.00 L702.30,540.00 L703.00,540.00 L703.70,540.00 L704.40,540.00 L705.10,540.00 L705.80,540.00 L706.50,540.00 L707.20,540.00 L707.90,540.00 L708.60,540.00 L709.30,540.00 L710.00,540.00 L710.70,540.00 L711.40,540.00 L712.10,540.00 L712.80,540.00 L713.50,540.00 L714.20,540.00 L714.90,540.00 L715.60,540.00 L716.30,540.00 L717.00,540.00 L717.70,540.00 L718.40,540.00 L719.10,540.00 L719.80,540.00 L720.50,540.00 L721.20,540.00 L721.90,540.00 L722.60,540.00 L723.30,540.00 L724.00,540.00 L724.70,540.00 L725.40,540.00 L726.10,540.00 L726.80,540.00 L727.50,540.00 L728.20,540.00 L728.90,540.00 L729.60,540.00 L730.30,540.00 L731.00,540.00 L731.70,540.00 L732.40,540.00 L733.10,540.00 L733.80,540.00 L734.50,540.00 L735.20,540.00 L735.90,540.00 L736.60,540.00 L737.30,540.00 L738.00,540.00 L738.70,540.00 L739.40,540.00 L740.10,540.00 L740.80,540.00 L741.50,540.00 L742.20,540.00 L742.90,540.00 L743.60,540.00 L744.30,540.00 L745.00,540.00 L745.70,540.00 L746.40,540.00 L747.10,540.00 L747.80,540.00 L748.50,540.00 L749.20,540.00 L749.90,540.00 L750.60,540.00 L751.30,540.00 L752.00,540.00 L752.70,540.00 L753.40,540.00 L754.10,540.00 L754.80,540.00 L755.50,540.00 L756.20,540.00 L756.90,540.00 L757.60,540.00 L758.30,540.00 L759.00,540.00 L759.70,540.00 L760.40,540.00 L761.10,540.00 L761.80,540.00 L762.50,540.00 L763.20,540.00 L763.90,540.00 L764.60,540.00 L765.30,540.00 L766.00,540.00 L766.70,540.00 L767.40,540.00 L768.10,540.00 L768.80,540.00 L769.50,540.00 L770.20,540.00 L770.90,540.00 L771.60,540.00 L772.30,540.00 L773.00,540.00 L773.70,540.00 L774.40,540.00 L775.10,540.00 L775.80,540.00 L776.50,540.00 L777.20,540.00 L777.90,540.00 L778.60,540.00 L779.30,540.00 L780.00,540.00 L780.70,540.00 L781.40,540.00 L782.10,540.00 L782.80,540.00 L783.50,540.00 L784.20,540.00 L784.90,540.00 L785.60,540.00 L786.30,540.00 L787.00,540.00 L787.70,540.00 L788.40,540.00 L789.10,540.00 L789.80,540.00 L790.50,540.00 L791.20,540.00 L791.90,540.00 L792.60,540.00 L793.30,540.00 L794.00,540.00 L794.70,540.00 L795.40,540.00 L796.10,540.00 L796.80,540.00 L797.50,540.00 L798.20,540.00 L798.90,540.00 L799.60,540.00 L800.30,540.00 L801.00,540.00 L801.70,540.00 L802.40,540.00 L803.10,540.00 L803.80,540.00 L804.50,540.00 L805.20,540.00 L805.90,540.00 L806.60,540.00 L807.30,540.00 L808.00,540.00 L808.70,540.00 L809.40,540.00 L810.10,540.00 L810.80,540.00 L811.50,540.00 L812.20,540.00 L812.90,540.00 L813.60,540.00 L814.30,540.00 L815.00,540.00 L815.70,540.00 L816.40,540.00 L817.10,540.00 L817.80,540.00 L818.50,540.00 L819.20,540.00 L819.90,540.00 L820.60,540.00 L821.30,540.00 L822.00,540.00 L822.70,540.00 L823.40,540.00 L824.10,540.00 L824.80,540.00 L825.50,540.00 L826.20,540.00 L826.90,540.00 L827.60,540.00 L828.30,540.00 L829.00,540.00 L829.70,540.00 L830.40,540.00 L831.10,540.00 L831.80,540.00 L832.50,540.00 L833.20,540.00 L833.90,540.00 L834.60,540.00 L835.30,540.00 L836.00,540.00 L836.70,540.00 L837.40,540.00 L838.10,540.00 L838.80,540.00 L839.50,540.00 L840.20,540.00 L840.90,540.00 L841.60,540.00 L842.30,540.00 L843.00,540.00 L843.70,540.00 L844.40,540.00 L845.10,540.00 L845.80,540.00 L846.50,540.00 L847.20,540.00 L847.90,540.00 L848.60,540.00 L849.30,540.00 L850.00,540.00 L850.70,540.00 L851.40,540.00 L852.10,540.00 L852.80,540.00 L853.50,540.00 L854.20,540.00 L854.90,540.00 L855.60,540.00 L856.30,540.00 L857.00,540.00 L857.70,540.00 L858.40,540.00 L859.10,540.00 L859.80,540.00 L860.50,540.00 L861.20,540.00 L861.90,540.00 L862.60,540.00 L863.30,540.00 L864.00,540.00 L864.70,540.00 L865.40,540.00 L866.10,540.00 L866.80,540.00 L867.50,540.00 L868.20,540.00 L868.90,540.00 L869.60,540.00 L870.30,540.00 L871.00,540.00 L871.70,540.00 L872.40,540.00 L873.10,540.00 L873.80,540.00 L874.50,540.00 L875.20,540.00 L875.90,540.00 L876.60,540.00 L877.30,540.00 L878.00,540.00 L878.70,540.00 L879.40,540.00 L880.10,540.00 L880.80,540.00 L881.50,540.00 L882.20,540.00 L882.90,540.00 L883.60,540.00 L884.30,540.00 L885.00,540.00 L885.70,540.00 L886.40,540.00 L887.10,540.00 L887.80,540.00 L888.50,540.00 L889.20,540.00 L889.90,540.00 L890.60,540.00 L891.30,540.00 L892.00,540.00 L892.70,540.00 L893.40,540.00 L894.10,540.00 L894.80,540.00 L895.50,540.00 L896.20,540.00 L896.90,540.00 L897.60,540.00 L898.30,540.00 L899.00,540.00 L899.70,540.00 L900.40,540.00 L901.10,540.00 L901.80,540.00 L902.50,540.00 L903.20,540.00 L903.90,540.00 L904.60,540.00 L905.30,540.00 L906.00,540.00 L906.70,540.00 L907.40,540.00 L908.10,540.00 L908.80,540.00 L909.50,540.00 L910.20,540.00 L910.90,540.00 L911.60,540.00 L912.30,540.00 L913.00,540.00 L913.70,540.00 L914.40,540.00 L915.10,540.00 L915.80,540.00 L916.50,540.00 L917.20,540.00 L917.90,540.00 L918.60,540.00 L919.30,540.00 L920.00,540.00 L920.70,540.00 L921.40,540.00 L922.10,540.00 L922.80,540.00 L923.50,540.00 L924.20,540.00 L924.90,540.00 L925.60,540.00 L926.30,540.00 L927.00,540.00 L927.70,540.00 L928.40,540.00 L929.10,540.00 L929.80,540.00 L930.50,540.00 L931.20,540.00 L931.90,540.00 L932.60,540.00 L933.30,540.00 L934.00,540.00 L934.70,540.00 L935.40,540.00 L936.10,540.00 L936.80,540.00 L937.50,540.00 L938.20,540.00 L938.90,540.00 L939.60,540.00 L940.30,540.00 L941.00,540.00 L941.70,540.00 L942.40,540.00 L943.10,540.00 L943.80,540.00 L944.50,540.00 L945.20,540.00 L945.90,540.00 L946.60,540.00 L947.30,540.00 L948.00,540.00 L948.70,540.00 L949.40,540.00 L950.10,540.00 L950.80,540.00 L951.50,540.00 L952.20,540.00 L952.90,540.00 L953.60,540.00 L954.30,540.00 L955.00,540.00 L955.70,540.00 L956.40,540.00 L957.10,540.00 L957.80,540.00 L958.50,540.00 L959.20,540.00 L959.90,540.00 L960.60,540.00 L961.30,540.00 L962.00,540.00 L962.70,540.00 L963.40,540.00 L964.10,540.00 L964.80,540.00 L965.50,540.00 L966.20,540.00 L966.90,540.00 L967.60,540.00 L968.30,540.00 L969.00,540.00 L969.70,540.00 L970.40,540.00 L971.10,540.00 L971.80,540.00 L972.50,540.00 L973.20,540.00 L973.90,540.00 L974.60,540.00 L975.30,540.00 L976.00,540.00 L976.70,540.00 L977.40,540.00 L978.10,540.00 L978.80,540.00 L979.50,540.00 L980.20,540.00 L980.90,540.00 L981.60,540.00 L982.30,540.00 L983.00,540.00 L983.70,540.00 L984.40,540.00 L985.10,540.00 L985.80,540.00 L986.50,540.00 L987.20,540.00 L987.90,540.00 L988.60,540.00 L989.30,540.00 L990.00,540.00 L990.70,540.00 L991.40,540.00 L992.10,540.00 L992.80,540.00 L993.50,540.00 L994.20,540.00 L994.90,540.00 L995.60,540.00 L996.30,540.00 L997.00,540.00 L997.70,540.00 L998.40,540.00 L999.10,540.00 L999.80,540.00 L1000.50,540.00 L1001.20,540.00 L1001.90,540.00 L1002.60,540.00 L1003.30,540.00 L1004.00,540.00 L1004.70,540.00 L1005.40,540.00 L1006.10,540.00 L1006.80,540.00 L1007.50,540.00 L1008.20,540.00 L1008.90,540.00 L1009.60,540.00 L1010.30,540.00 L1011.00,540.00 L1011.70,540.00 L1012.40,540.00 L1013.10,540.00 L1013.80,540.00 L1014.50,540.00 L1015.20,540.00 L1015.90,540.00 L1016.60,540.00 L1017.30,540.00 L1018.00,540.00 L1018.70,540.00 L1019.40,540.00 L1020.10,540.00 L1020.80,540.00 L1021.50,540.00 L1022.20,540.00 L1022.90,540.00 L1023.60,540.00 L1024.30,540.00 L1025.00,540.00 L1025.70,540.00 L1026.40,540.00 L1027.10,540.00 L1027.80,540.00 L1028.50,540.00 L1029.20,540.00 L1029.90,540.00 L1030.60,540.00 L1031.30,540.00 L1032.00,540.00 L1032.70,540.00 L1033.40,540.00 L1034.10,540.00 L1034.80,540.00 L1035.50,540.00 L1036.20,540.00 L1036.90,540.00 L1037.60,540.00 L1038.30,540.00 L1039.00,540.00 L1039.70,540.00 L1040.40,540.00 L1041.10,540.00 L1041.80,540.00 L1042.50,540.00 L1043.20,540.00 L1043.90,540.00 L1044.60,540.00 L1045.30,540.00 L1046.00,540.00 L1046.70,540.00 L1047.40,540.00 L1048.10,540.00 L1048.80,540.00 L1049.50,540.00 L1050.20,540.00 L1050.90,540.00 L1051.60,540.00 L1052.30,540.00 L1053.00,540.00 L1053.70,540.00 L1054.40,540.00 L1055.10,540.00 L1055.80,540.00 L1056.50,540.00 L1057.20,540.00 L1057.90,540.00 L1058.60,540.00 L1059.30,540.00 L1060.00,540.00 L1060.70,540.00 L1061.40,540.00 L1062.10,540.00 L1062.80,540.00 L1063.50,540.00 L1064.20,540.00 L1064.90,540.00 L1065.60,540.00 L1066.30,540.00 L1067.00,540.00 L1067.70,540.00 L1068.40,540.00 L1069.10,540.00 L1069.80,540.00 L1070.50,540.00 L1071.20,540.00 L1071.90,540.00 L1072.60,540.00 L1073.30,540.00 L1074.00,540.00 L1074.70,540.00 L1075.40,540.00 L1076.10,540.00 L1076.80,540.00 L1077.50,540.00 L1078.20,540.00 L1078.90,540.00 L1079.60,540.00 L1080.00,540.00" fill="none" stroke="#0000ff" stroke-width="3.47" stroke-linejoin="round" stroke-linecap="butt"/>
<path d="M150.00,337.50 L150.70,338.12 L151.00,338.50 L151.40,339.14 L152.10,340.67 L152.80,342.62 L153.50,344.86 L154.20,347.25 L155.00,350.00 L155.60,352.16 L156.30,354.96 L157.00,357.97 L157.70,361.08 L158.40,364.20 L159.10,367.22 L159.80,370.04 L160.00,370.80 L160.50,372.65 L161.20,375.21 L161.90,377.71 L162.60,380.09 L163.30,382.35 L164.00,384.44 L164.20,385.00 L164.70,386.37 L165.40,388.21 L166.10,389.84 L166.70,391.00 L167.50,392.37 L168.20,393.56 L168.90,394.73 L169.60,395.84 L170.30,396.88 L171.00,397.81 L171.70,398.61 L172.40,399.25 L173.10,399.71 L173.80,399.96 L174.20,400.00 L174.50,399.84 L175.20,398.30 L175.90,395.22 L176.70,390.00 L177.10,383.30 L178.00,377.22 L178.75,374.20 L179.40,372.13 L180.10,370.36 L180.80,368.80 L181.50,367.20 L181.70,366.70 L182.20,365.21 L182.90,363.17 L183.30,362.50 L183.60,362.25 L184.30,361.79 L185.00,361.47 L185.70,361.21 L186.40,360.94 L186.70,360.80 L187.10,360.59 L187.80,360.17 L188.50,359.73 L189.20,359.32 L189.90,359.02 L190.60,358.86 L190.80,358.85 L191.30,358.94 L192.00,359.33 L192.70,360.00 L193.40,360.89 L194.10,361.95 L194.80,363.13 L195.40,364.20 L196.20,366.48 L196.90,369.20 L197.60,371.70 L197.90,372.50 L198.30,373.44 L199.00,375.02 L199.70,376.03 L200.00,376.15 L200.40,376.09 L201.10,375.74 L201.80,375.14 L202.50,374.40 L203.20,373.61 L203.90,372.86 L204.60,372.24 L205.30,371.84 L205.80,371.75 L206.70,373.99 L207.40,376.63 L207.90,377.45 L208.80,376.03 L209.50,373.59 L210.20,370.77 L210.40,370.00 L210.90,367.94 L211.60,364.49 L212.10,361.70 L213.00,355.57 L213.30,353.30 L213.70,350.44 L214.30,345.00 L215.10,326.72 L215.40,320.00 L215.80,312.88 L216.50,301.82 L217.10,295.00 L217.90,289.33 L218.60,285.59 L219.20,282.50 L220.00,278.27 L220.70,274.76 L221.40,271.40 L221.70,270.00 L222.10,268.19 L222.80,265.18 L223.50,262.26 L224.20,259.28 L224.60,257.50 L224.90,256.24 L225.60,253.72 L226.30,250.89 L227.00,246.64 L227.20,245.00 L227.50,240.00 L228.40,225.39 L229.05,210.00 L229.60,180.00 L230.40,158.00 L230.85,138.00 L231.20,130.13 L232.00,118.00 L232.60,108.21 L233.15,103.40 L233.95,118.00 L234.70,129.79 L235.00,138.00 L235.25,158.00 L235.80,180.00 L236.10,198.67 L236.30,210.00 L236.80,226.91 L237.25,240.00 L237.40,245.00 L238.20,262.25 L238.75,270.00 L239.60,277.47 L240.40,282.50 L241.00,285.72 L241.70,288.95 L242.40,291.92 L243.10,295.00 L243.10,295.00 L243.80,297.99 L244.50,300.82 L245.20,304.04 L245.80,307.50 L246.60,314.35 L247.10,320.00 L247.90,332.50 L248.75,345.00 L249.40,350.94 L250.10,355.23 L250.40,355.75 L250.80,355.56 L251.50,354.62 L252.20,353.53 L252.90,353.00 L252.90,353.00 L253.60,354.55 L254.30,358.04 L255.00,361.70 L255.00,361.70 L255.70,365.15 L256.40,368.87 L257.10,372.42 L257.50,374.20 L257.80,375.35 L258.50,377.64 L259.20,380.12 L259.40,381.00 L259.90,383.77 L260.60,388.69 L261.30,393.93 L261.70,396.70 L262.00,398.71 L262.70,403.42 L263.30,406.70 L264.10,409.84 L264.80,412.11 L265.50,414.13 L266.20,416.07 L266.70,417.50 L267.60,420.17 L268.30,422.24 L269.00,424.26 L269.70,426.19 L270.40,428.00 L271.25,430.00 L271.80,431.17 L272.50,432.58 L273.20,433.90 L273.90,435.14 L274.60,436.34 L275.30,437.49 L275.80,438.30 L276.70,439.70 L277.40,440.72 L278.10,441.71 L278.80,442.68 L279.50,443.63 L280.20,444.58 L280.90,445.56 L281.70,446.70 L282.30,447.57 L283.00,448.57 L283.70,449.56 L284.40,450.57 L285.10,451.62 L285.80,452.71 L286.50,453.86 L286.70,454.20 L287.20,455.15 L287.90,456.69 L288.60,458.27 L289.30,459.71 L290.00,460.80 L290.00,460.80 L290.70,461.61 L291.40,462.35 L292.10,463.01 L292.80,463.60 L293.50,464.12 L294.20,464.57 L295.00,465.00 L295.60,465.28 L296.30,465.58 L297.00,465.84 L297.70,466.08 L298.40,466.30 L299.10,466.49 L299.80,466.66 L300.00,466.70 L300.50,466.80 L301.20,466.92 L301.90,467.01 L302.60,467.10 L303.30,467.20 L304.00,467.30 L304.70,467.43 L305.00,467.50 L305.40,467.61 L306.10,467.90 L306.80,468.27 L307.50,468.69 L308.20,469.13 L308.90,469.54 L309.60,469.89 L310.30,470.15 L311.00,470.29 L311.25,470.30 L311.70,470.22 L312.40,469.80 L313.10,469.10 L313.80,468.20 L314.50,467.19 L315.20,466.15 L315.90,465.16 L316.70,464.20 L317.30,463.58 L318.00,462.86 L318.70,462.15 L319.40,461.45 L320.10,460.76 L320.80,460.07 L321.50,459.40 L322.20,458.74 L322.90,458.09 L323.60,457.44 L324.30,456.82 L325.00,456.20 L325.00,456.20 L325.70,455.59 L326.40,454.99 L327.10,454.40 L327.80,453.82 L328.50,453.24 L329.20,452.68 L329.90,452.12 L330.60,451.58 L331.30,451.05 L332.00,450.53 L332.70,450.02 L333.30,449.60 L334.10,449.06 L334.80,448.61 L335.50,448.17 L336.20,447.75 L336.90,447.34 L337.60,446.93 L338.30,446.52 L339.00,446.11 L339.70,445.69 L340.40,445.25 L341.10,444.80 L341.70,444.40 L342.50,443.85 L343.20,443.37 L343.90,442.88 L344.60,442.39 L345.30,441.87 L346.00,441.34 L346.70,440.78 L347.40,440.20 L348.10,439.58 L348.30,439.40 L348.80,438.93 L349.50,438.22 L350.20,437.47 L350.90,436.68 L351.60,435.85 L352.30,434.99 L353.00,434.09 L353.60,433.30 L354.40,432.18 L355.10,431.12 L355.80,430.01 L356.50,428.86 L357.20,427.68 L357.90,426.49 L358.60,425.30 L359.30,424.13 L360.00,423.00 L360.00,423.00 L360.70,421.88 L361.40,420.74 L362.10,419.60 L362.80,418.45 L363.50,417.31 L364.20,416.18 L364.90,415.05 L365.60,413.95 L366.30,412.88 L367.00,411.84 L367.70,410.83 L368.30,410.00 L369.10,408.92 L369.80,407.99 L370.50,407.07 L371.20,406.17 L371.90,405.28 L372.60,404.42 L373.30,403.59 L374.00,402.78 L374.70,402.01 L375.40,401.27 L376.10,400.57 L376.70,400.00 L377.50,399.31 L378.20,398.75 L378.90,398.24 L379.60,397.75 L380.30,397.27 L381.00,396.78 L381.70,396.28 L382.40,395.75 L383.10,395.17 L383.30,395.00 L383.80,394.52 L384.50,393.74 L385.20,392.89 L385.90,392.03 L386.60,391.22 L387.30,390.51 L388.00,389.97 L388.30,389.80 L388.70,389.62 L389.40,389.36 L390.00,389.20 L390.80,389.04 L391.50,388.93 L392.20,388.83 L392.90,388.75 L393.60,388.66 L394.00,388.60 L394.30,388.55 L395.00,388.43 L395.70,388.30 L396.40,388.18 L397.10,388.08 L397.80,388.02 L398.30,388.00 L399.20,388.13 L399.90,388.36 L400.50,388.60 L401.30,389.13 L402.00,389.80 L402.50,390.30 L403.40,391.43 L404.10,392.47 L404.80,393.39 L405.50,393.94 L405.80,394.00 L406.20,393.94 L406.90,393.61 L407.60,393.09 L408.30,392.53 L409.00,392.03 L409.70,391.73 L410.00,391.70 L410.40,391.70 L411.10,391.70 L411.80,391.70 L412.50,391.70 L413.20,391.70 L414.00,391.70 L414.60,391.75 L415.30,391.92 L416.00,392.20 L416.70,392.57 L417.40,393.01 L418.10,393.51 L418.80,394.04 L419.50,394.60 L420.00,395.00 L420.90,395.83 L421.60,396.62 L422.30,397.52 L423.00,398.52 L423.70,399.61 L424.40,400.78 L425.10,402.01 L425.80,403.29 L426.50,404.62 L426.70,405.00 L427.20,405.99 L427.90,407.48 L428.60,409.10 L429.30,410.85 L430.00,412.75 L430.70,414.80 L431.40,417.00 L431.70,418.00 L432.10,419.43 L432.80,422.26 L433.50,425.44 L434.20,428.88 L435.00,433.00 L435.60,436.43 L436.30,440.82 L437.00,445.00 L437.00,445.00 L437.70,448.83 L438.40,452.57 L439.10,456.21 L439.80,459.75 L440.50,463.16 L441.20,466.43 L442.00,470.00 L442.60,472.59 L443.30,475.58 L444.00,478.49 L444.70,481.26 L445.40,483.84 L446.10,486.20 L446.70,488.00 L447.50,490.15 L448.20,491.90 L448.90,493.53 L449.60,495.06 L450.30,496.51 L451.00,497.90 L451.70,499.25 L452.40,500.57 L453.00,501.70 L453.80,503.19 L454.50,504.47 L455.20,505.74 L455.90,506.97 L456.60,508.18 L457.30,509.36 L458.00,510.50 L458.70,511.61 L459.40,512.68 L460.10,513.71 L460.80,514.70 L461.50,515.64 L461.70,515.90 L462.20,516.54 L462.90,517.41 L463.60,518.26 L464.30,519.09 L465.00,519.89 L465.70,520.66 L466.40,521.40 L467.10,522.12 L467.80,522.81 L468.50,523.48 L469.20,524.11 L470.00,524.80 L470.60,525.30 L471.30,525.87 L472.00,526.44 L472.70,526.99 L473.40,527.53 L474.10,528.05 L474.80,528.55 L475.50,529.04 L476.20,529.50 L476.90,529.94 L477.60,530.36 L478.30,530.76 L479.00,531.13 L479.70,531.46 L480.00,531.60 L480.40,531.78 L481.10,532.08 L481.80,532.38 L482.50,532.66 L483.20,532.94 L483.90,533.21 L484.60,533.46 L485.30,533.70 L486.00,533.93 L486.70,534.14 L487.40,534.33 L488.10,534.51 L488.80,534.67 L489.50,534.81 L490.00,534.90 L490.90,535.04 L491.60,535.15 L492.30,535.25 L493.00,535.35 L493.70,535.44 L494.40,535.53 L495.10,535.61 L495.80,535.69 L496.50,535.75 L497.20,535.82 L497.90,535.87 L498.60,535.92 L499.30,535.96 L500.00,536.00 L500.00,536.00 L500.70,536.03 L501.40,536.06 L502.10,536.09 L502.80,536.12 L503.50,536.14 L504.20,536.16 L504.90,536.18 L505.60,536.19 L506.30,536.20 L506.70,536.20 L507.00,536.20 L507.70,536.20 L508.40,536.20 L509.10,536.20 L509.80,536.20 L510.50,536.20 L511.20,536.20 L511.90,536.20 L512.60,536.20 L513.30,536.20 L514.00,536.20 L514.70,536.20 L515.40,536.20 L516.10,536.20 L516.80,536.20 L517.50,536.20 L518.20,536.20 L518.90,536.20 L519.60,536.20 L520.30,536.20 L521.00,536.20 L521.70,536.20 L522.40,536.20 L523.10,536.20 L523.80,536.20 L524.50,536.20 L525.20,536.20 L525.90,536.20 L526.60,536.20 L527.30,536.20 L528.00,536.20 L528.70,536.20 L529.40,536.20 L530.10,536.20 L530.80,536.20 L531.50,536.20 L532.20,536.20 L532.90,536.20 L533.60,536.20 L534.30,536.20 L535.00,536.20 L535.70,536.20 L536.40,536.20 L537.10,536.20 L537.80,536.20 L538.50,536.20 L539.20,536.20 L540.00,536.20 L540.60,536.20 L541.30,536.20 L542.00,536.19 L542.70,536.19 L543.40,536.18 L544.10,536.17 L544.80,536.16 L545.50,536.15 L546.20,536.13 L546.90,536.12 L547.60,536.10 L548.30,536.09 L549.00,536.07 L549.70,536.05 L550.40,536.04 L551.10,536.02 L551.80,536.00 L552.50,535.98 L553.20,535.97 L553.90,535.95 L554.60,535.93 L555.30,535.92 L556.00,535.90 L556.00,535.90 L556.70,535.88 L557.40,535.86 L558.10,535.84 L558.80,535.82 L559.50,535.79 L560.20,535.77 L560.90,535.75 L561.60,535.73 L562.30,535.72 L563.00,535.71 L563.70,535.70 L564.00,535.70 L564.40,535.70 L565.10,535.71 L565.80,535.74 L566.50,535.77 L567.20,535.81 L567.90,535.86 L568.60,535.91 L569.30,535.97 L570.00,536.03 L570.70,536.09 L571.40,536.15 L572.00,536.20 L572.80,536.28 L573.50,536.36 L574.20,536.44 L574.90,536.54 L575.60,536.64 L576.30,536.75 L577.00,536.86 L577.70,536.96 L578.40,537.07 L579.10,537.17 L579.80,537.27 L580.00,537.30 L580.50,537.37 L581.20,537.46 L581.90,537.55 L582.60,537.65 L583.30,537.74 L584.00,537.83 L584.70,537.93 L585.40,538.02 L586.10,538.11 L586.80,538.20 L587.50,538.29 L588.20,538.38 L588.90,538.47 L589.60,538.55 L590.00,538.60 L590.30,538.64 L591.00,538.72 L591.70,538.81 L592.40,538.90 L593.10,538.99 L593.80,539.08 L594.50,539.17 L595.20,539.25 L595.90,539.32 L596.60,539.39 L597.30,539.45 L598.00,539.50 L598.00,539.50 L598.70,539.54 L599.40,539.59 L600.10,539.63 L600.80,539.67 L601.50,539.71 L602.20,539.75 L602.90,539.79 L603.60,539.82 L604.30,539.86 L605.00,539.89 L605.70,539.92 L606.40,539.94 L607.10,539.96 L607.80,539.98 L608.50,539.99 L609.20,540.00 L610.00,540.00 L610.60,540.00 L611.30,540.00 L612.00,540.00 L612.70,540.00 L613.40,540.00 L614.10,540.00 L614.80,540.00 L615.50,540.00 L616.20,540.00 L616.90,540.00 L617.60,540.00 L618.30,540.00 L619.00,540.00 L619.70,540.00 L620.40,540.00 L621.10,540.00 L621.80,540.00 L622.50,540.00 L623.20,540.00 L623.90,540.00 L624.60,540.00 L625.30,540.00 L626.00,540.00 L626.70,540.00 L627.40,540.00 L628.10,540.00 L628.80,540.00 L629.50,540.00 L630.20,540.00 L630.90,540.00 L631.60,540.00 L632.30,540.00 L633.00,540.00 L633.70,540.00 L634.40,540.00 L635.10,540.00 L635.80,540.00 L636.50,540.00 L637.20,540.00 L637.90,540.00 L638.60,540.00 L639.30,540.00 L640.00,540.00 L640.70,540.00 L641.40,540.00 L642.10,540.00 L642.80,540.00 L643.50,540.00 L644.20,540.00 L644.90,540.00 L645.60,540.00 L646.30,540.00 L647.00,540.00 L647.70,540.00 L648.40,540.00 L649.10,540.00 L649.80,540.00 L650.50,540.00 L651.20,540.00 L651.90,540.00 L652.60,540.00 L653.30,540.00 L654.00,540.00 L654.70,540.00 L655.40,540.00 L656.10,540.00 L656.80,540.00 L657.50,540.00 L658.20,540.00 L658.90,540.00 L659.60,540.00 L660.30,540.00 L661.00,540.00 L661.70,540.00 L662.40,540.00 L663.10,540.00 L663.80,540.00 L664.50,540.00 L665.20,540.00 L665.90,540.00 L666.60,540.00 L667.30,540.00 L668.00,540.00 L668.70,540.00 L669.40,540.00 L670.10,540.00 L670.80,540.00 L671.50,540.00 L672.20,540.00 L672.90,540.00 L673.60,540.00 L674.30,540.00 L675.00,540.00 L675.70,540.00 L676.40,540.00 L677.10,540.00 L677.80,540.00 L678.50,540.00 L679.20,540.00 L679.90,540.00 L680.60,540.00 L681.30,540.00 L682.00,540.00 L682.70,540.00 L683.40,540.00 L684.10,540.00 L684.80,540.00 L685.50,540.00 L686.20,540.00 L686.90,540.00 L687.60,540.00 L688.30,540.00 L689.00,540.00 L689.70,540.00 L690.40,540.00 L691.10,540.00 L691.80,540.00 L692.50,540.00 L693.20,540.00 L693.90,540.00 L694.60,540.00 L695.30,540.00 L696.00,540.00 L696.70,540.00 L697.40,540.00 L698.10,540.00 L698.80,540.00 L699.50,540.00 L700.20,540.00 L700.90,540.00 L701.60,540.00 L702.30,540.00 L703.00,540.00 L703.70,540.00 L704.40,540.00 L705.10,540.00 L705.80,540.00 L706.50,540.00 L707.20,540.00 L707.90,540.00 L708.60,540.00 L709.30,540.00 L710.00,540.00 L710.70,540.00 L711.40,540.00 L712.10,540.00 L712.80,540.00 L713.50,540.00 L714.20,540.00 L714.90,540.00 L715.60,540.00 L716.30,540.00 L717.00,540.00 L717.70,540.00 L718.40,540.00 L719.10,540.00 L719.80,540.00 L720.50,540.00 L721.20,540.00 L721.90,540.00 L722.60,540.00 L723.30,540.00 L724.00,540.00 L724.70,540.00 L725.40,540.00 L726.10,540.00 L726.80,540.00 L727.50,540.00 L728.20,540.00 L728.90,540.00 L729.60,540.00 L730.30,540.00 L731.00,540.00 L731.70,540.00 L732.40,540.00 L733.10,540.00 L733.80,540.00 L734.50,540.00 L735.20,540.00 L735.90,540.00 L736.60,540.00 L737.30,540.00 L738.00,540.00 L738.70,540.00 L739.40,540.00 L740.10,540.00 L740.80,540.00 L741.50,540.00 L742.20,540.00 L742.90,540.00 L743.60,540.00 L744.30,540.00 L745.00,540.00 L745.70,540.00 L746.40,540.00 L747.10,540.00 L747.80,540.00 L748.50,540.00 L749.20,540.00 L749.90,540.00 L750.60,540.00 L751.30,540.00 L752.00,540.00 L752.70,540.00 L753.40,540.00 L754.10,540.00 L754.80,540.00 L755.50,540.00 L756.20,540.00 L756.90,540.00 L757.60,540.00 L758.30,540.00 L759.00,540.00 L759.70,540.00 L760.40,540.00 L761.10,540.00 L761.80,540.00 L762.50,540.00 L763.20,540.00 L763.90,540.00 L764.60,540.00 L765.30,540.00 L766.00,540.00 L766.70,540.00 L767.40,540.00 L768.10,540.00 L768.80,540.00 L769.50,540.00 L770.20,540.00 L770.90,540.00 L771.60,540.00 L772.30,540.00 L773.00,540.00 L773.70,540.00 L774.40,540.00 L775.10,540.00 L775.80,540.00 L776.50,540.00 L777.20,540.00 L777.90,540.00 L778.60,540.00 L779.30,540.00 L780.00,540.00 L780.70,540.00 L781.40,540.00 L782.10,540.00 L782.80,540.00 L783.50,540.00 L784.20,540.00 L784.90,540.00 L785.60,540.00 L786.30,540.00 L787.00,540.00 L787.70,540.00 L788.40,540.00 L789.10,540.00 L789.80,540.00 L790.50,540.00 L791.20,540.00 L791.90,540.00 L792.60,540.00 L793.30,540.00 L794.00,540.00 L794.70,540.00 L795.40,540.00 L796.10,540.00 L796.80,540.00 L797.50,540.00 L798.20,540.00 L798.90,540.00 L799.60,540.00 L800.30,540.00 L801.00,540.00 L801.70,540.00 L802.40,540.00 L803.10,540.00 L803.80,540.00 L804.50,540.00 L805.20,540.00 L805.90,540.00 L806.60,540.00 L807.30,540.00 L808.00,540.00 L808.70,540.00 L809.40,540.00 L810.10,540.00 L810.80,540.00 L811.50,540.00 L812.20,540.00 L812.90,540.00 L813.60,540.00 L814.30,540.00 L815.00,540.00 L815.70,540.00 L816.40,540.00 L817.10,540.00 L817.80,540.00 L818.50,540.00 L819.20,540.00 L819.90,540.00 L820.60,540.00 L821.30,540.00 L822.00,540.00 L822.70,540.00 L823.40,540.00 L824.10,540.00 L824.80,540.00 L825.50,540.00 L826.20,540.00 L826.90,540.00 L827.60,540.00 L828.30,540.00 L829.00,540.00 L829.70,540.00 L830.40,540.00 L831.10,540.00 L831.80,540.00 L832.50,540.00 L833.20,540.00 L833.90,540.00 L834.60,540.00 L835.30,540.00 L836.00,540.00 L836.70,540.00 L837.40,540.00 L838.10,540.00 L838.80,540.00 L839.50,540.00 L840.20,540.00 L840.90,540.00 L841.60,540.00 L842.30,540.00 L843.00,540.00 L843.70,540.00 L844.40,540.00 L845.10,540.00 L845.80,540.00 L846.50,540.00 L847.20,540.00 L847.90,540.00 L848.60,540.00 L849.30,540.00 L850.00,540.00 L850.70,540.00 L851.40,540.00 L852.10,540.00 L852.80,540.00 L853.50,540.00 L854.20,540.00 L854.90,540.00 L855.60,540.00 L856.30,540.00 L857.00,540.00 L857.70,540.00 L858.40,540.00 L859.10,540.00 L859.80,540.00 L860.50,540.00 L861.20,540.00 L861.90,540.00 L862.60,540.00 L863.30,540.00 L864.00,540.00 L864.70,540.00 L865.40,540.00 L866.10,540.00 L866.80,540.00 L867.50,540.00 L868.20,540.00 L868.90,540.00 L869.60,540.00 L870.30,540.00 L871.00,540.00 L871.70,540.00 L872.40,540.00 L873.10,540.00 L873.80,540.00 L874.50,540.00 L875.20,540.00 L875.90,540.00 L876.60,540.00 L877.30,540.00 L878.00,540.00 L878.70,540.00 L879.40,540.00 L880.10,540.00 L880.80,540.00 L881.50,540.00 L882.20,540.00 L882.90,540.00 L883.60,540.00 L884.30,540.00 L885.00,540.00 L885.70,540.00 L886.40,540.00 L887.10,540.00 L887.80,540.00 L888.50,540.00 L889.20,540.00 L889.90,540.00 L890.60,540.00 L891.30,540.00 L892.00,540.00 L892.70,540.00 L893.40,540.00 L894.10,540.00 L894.80,540.00 L895.50,540.00 L896.20,540.00 L896.90,540.00 L897.60,540.00 L898.30,540.00 L899.00,540.00 L899.70,540.00 L900.40,540.00 L901.10,540.00 L901.80,540.00 L902.50,540.00 L903.20,540.00 L903.90,540.00 L904.60,540.00 L905.30,540.00 L906.00,540.00 L906.70,540.00 L907.40,540.00 L908.10,540.00 L908.80,540.00 L909.50,540.00 L910.20,540.00 L910.90,540.00 L911.60,540.00 L912.30,540.00 L913.00,540.00 L913.70,540.00 L914.40,540.00 L915.10,540.00 L915.80,540.00 L916.50,540.00 L917.20,540.00 L917.90,540.00 L918.60,540.00 L919.30,540.00 L920.00,540.00 L920.70,540.00 L921.40,540.00 L922.10,540.00 L922.80,540.00 L923.50,540.00 L924.20,540.00 L924.90,540.00 L925.60,540.00 L926.30,540.00 L927.00,540.00 L927.70,540.00 L928.40,540.00 L929.10,540.00 L929.80,540.00 L930.50,540.00 L931.20,540.00 L931.90,540.00 L932.60,540.00 L933.30,540.00 L934.00,540.00 L934.70,540.00 L935.40,540.00 L936.10,540.00 L936.80,540.00 L937.50,540.00 L938.20,540.00 L938.90,540.00 L939.60,540.00 L940.30,540.00 L941.00,540.00 L941.70,540.00 L942.40,540.00 L943.10,540.00 L943.80,540.00 L944.50,540.00 L945.20,540.00 L945.90,540.00 L946.60,540.00 L947.30,540.00 L948.00,540.00 L948.70,540.00 L949.40,540.00 L950.10,540.00 L950.80,540.00 L951.50,540.00 L952.20,540.00 L952.90,540.00 L953.60,540.00 L954.30,540.00 L955.00,540.00 L955.70,540.00 L956.40,540.00 L957.10,540.00 L957.80,540.00 L958.50,540.00 L959.20,540.00 L959.90,540.00 L960.60,540.00 L961.30,540.00 L962.00,540.00 L962.70,540.00 L963.40,540.00 L964.10,540.00 L964.80,540.00 L965.50,540.00 L966.20,540.00 L966.90,540.00 L967.60,540.00 L968.30,540.00 L969.00,540.00 L969.70,540.00 L970.40,540.00 L971.10,540.00 L971.80,540.00 L972.50,540.00 L973.20,540.00 L973.90,540.00 L974.60,540.00 L975.30,540.00 L976.00,540.00 L976.70,540.00 L977.40,540.00 L978.10,540.00 L978.80,540.00 L979.50,540.00 L980.20,540.00 L980.90,540.00 L981.60,540.00 L982.30,540.00 L983.00,540.00 L983.70,540.00 L984.40,540.00 L985.10,540.00 L985.80,540.00 L986.50,540.00 L987.20,540.00 L987.90,540.00 L988.60,540.00 L989.30,540.00 L990.00,540.00 L990.70,540.00 L991.40,540.00 L992.10,540.00 L992.80,540.00 L993.50,540.00 L994.00,540.00" fill="none" stroke="#ff0000" stroke-width="3.47" stroke-linejoin="round" stroke-linecap="butt"/>
<path d="M150.00,540.00 L150.70,540.00 L151.40,540.00 L152.10,539.99 L152.80,539.98 L153.50,539.98 L154.20,539.97 L154.90,539.96 L155.60,539.94 L156.30,539.93 L157.00,539.92 L157.70,539.91 L158.00,539.90 L158.40,539.89 L159.10,539.87 L159.80,539.85 L160.50,539.83 L161.20,539.80 L161.90,539.77 L162.60,539.74 L163.30,539.70 L164.00,539.66 L164.70,539.62 L165.00,539.60 L165.40,539.57 L166.10,539.52 L166.80,539.45 L167.50,539.37 L168.20,539.29 L168.90,539.19 L169.60,539.09 L170.30,538.98 L170.80,538.90 L171.70,538.73 L172.40,538.58 L173.10,538.41 L173.80,538.22 L174.50,538.02 L175.20,537.81 L175.90,537.58 L176.70,537.30 L177.30,537.08 L178.00,536.79 L178.70,536.47 L179.40,536.12 L180.10,535.75 L180.80,535.35 L181.50,534.93 L181.70,534.80 L182.20,534.46 L182.90,533.93 L183.60,533.35 L184.30,532.73 L185.00,532.08 L185.70,531.42 L186.40,530.77 L186.70,530.50 L187.10,530.14 L187.80,529.51 L188.50,528.87 L189.20,528.22 L189.90,527.56 L190.60,526.89 L191.30,526.20 L191.70,525.80 L192.00,525.49 L192.70,524.75 L193.40,523.97 L194.10,523.18 L194.80,522.39 L195.50,521.60 L196.20,520.83 L196.70,520.30 L197.60,519.42 L198.30,518.76 L199.00,518.09 L199.70,517.35 L200.00,517.00 L200.40,516.49 L201.10,515.51 L201.80,514.44 L202.50,513.31 L203.30,512.00 L203.90,511.00 L204.60,509.78 L205.30,508.52 L206.00,507.26 L206.70,506.00 L206.70,506.00 L207.40,504.80 L208.10,503.64 L208.80,502.41 L209.60,500.80 L210.20,499.34 L210.90,497.37 L211.70,495.00 L212.30,493.40 L213.00,491.28 L213.30,490.00 L213.70,486.98 L214.40,479.39 L214.60,477.50 L215.10,473.48 L215.80,468.33 L216.25,465.00 L216.50,463.06 L217.20,457.46 L217.90,452.50 L217.90,452.50 L218.60,448.58 L219.30,445.16 L220.00,441.90 L220.40,440.00 L220.70,438.59 L221.40,435.48 L222.10,432.18 L222.50,430.00 L222.80,428.11 L223.50,422.92 L224.20,417.31 L224.50,415.00 L224.90,412.07 L225.60,407.06 L226.30,401.68 L226.50,400.00 L227.00,395.54 L227.70,388.48 L228.00,385.00 L228.40,379.77 L229.00,370.00 L229.80,350.20 L230.00,345.00 L230.50,332.35 L231.00,320.00 L231.90,298.58 L232.10,295.00 L232.60,286.90 L233.30,280.60 L233.30,280.60 L234.00,286.10 L234.60,295.00 L235.40,311.71 L235.80,320.00 L236.10,325.30 L236.80,337.03 L237.50,345.00 L237.50,345.00 L238.20,349.61 L238.90,353.05 L239.60,354.40 L239.60,354.40 L240.30,354.19 L241.00,353.63 L241.70,352.83 L242.40,351.88 L243.10,350.88 L243.80,349.95 L244.50,349.17 L245.20,348.66 L245.80,348.50 L246.60,351.44 L247.30,357.37 L248.00,364.40 L248.70,370.60 L249.40,374.04 L249.60,374.25 L250.10,373.70 L250.80,371.49 L251.50,368.29 L252.20,364.89 L252.90,362.08 L253.75,360.60 L254.30,360.82 L255.00,361.63 L255.70,362.92 L256.40,364.51 L257.10,366.27 L257.80,368.03 L258.30,369.20 L259.20,371.26 L259.90,372.97 L260.60,374.85 L261.30,376.97 L261.70,378.30 L262.00,379.54 L262.70,383.25 L263.40,386.46 L263.60,387.00 L264.20,387.90 L264.80,388.69 L265.50,389.54 L266.20,390.35 L266.90,391.13 L267.60,391.90 L268.30,392.69 L269.00,393.51 L269.20,393.75 L269.70,394.38 L270.40,395.29 L271.10,396.24 L271.80,397.20 L272.50,398.15 L273.20,399.08 L273.90,399.97 L274.60,400.80 L275.00,401.25 L275.30,401.58 L276.00,402.32 L276.70,402.90 L276.70,402.90 L277.40,403.30 L278.10,403.63 L278.80,403.91 L279.50,404.14 L280.20,404.36 L280.90,404.56 L281.60,404.76 L282.30,404.98 L283.00,405.23 L283.70,405.53 L284.40,405.88 L285.00,406.25 L285.80,406.98 L286.50,407.84 L287.20,408.80 L287.50,409.20 L287.90,409.78 L288.60,410.94 L289.30,412.17 L290.00,413.28 L290.80,414.20 L291.40,414.69 L292.10,415.23 L292.80,415.68 L293.50,415.99 L294.20,416.10 L294.20,416.10 L294.90,416.09 L295.60,416.04 L296.30,415.98 L297.00,415.89 L297.70,415.79 L298.40,415.68 L299.10,415.56 L299.80,415.44 L300.00,415.40 L300.50,415.28 L301.20,415.04 L301.90,414.73 L302.60,414.38 L303.30,414.02 L304.00,413.69 L304.70,413.40 L305.40,413.20 L306.25,413.10 L306.80,413.25 L307.50,413.72 L308.20,414.30 L308.90,414.72 L309.30,414.80 L309.60,414.75 L310.30,414.25 L311.00,413.39 L311.70,412.33 L312.10,411.70 L312.40,411.17 L313.10,409.52 L313.80,407.46 L314.50,405.25 L315.20,403.10 L315.80,401.50 L316.60,399.65 L317.30,398.14 L318.00,396.68 L318.70,395.27 L319.40,393.87 L320.10,392.46 L320.80,391.00 L320.80,391.00 L321.50,389.51 L322.20,388.00 L322.90,386.49 L323.60,384.98 L324.30,383.48 L325.00,382.00 L325.00,382.00 L325.70,380.53 L326.40,379.06 L327.10,377.59 L327.80,376.14 L328.50,374.70 L329.20,373.28 L330.00,371.70 L330.60,370.53 L331.30,369.18 L332.00,367.84 L332.70,366.51 L333.40,365.20 L334.10,363.90 L334.80,362.60 L335.50,361.32 L336.20,360.05 L336.90,358.79 L337.60,357.53 L338.30,356.29 L339.00,355.05 L339.70,353.82 L340.00,353.30 L340.40,352.61 L341.10,351.41 L341.80,350.24 L342.50,349.09 L343.20,347.95 L343.90,346.81 L344.60,345.68 L345.30,344.54 L346.00,343.39 L346.70,342.23 L347.40,341.05 L348.10,339.85 L348.30,339.50 L348.80,338.62 L349.50,337.39 L350.20,336.13 L350.90,334.84 L351.70,333.30 L352.30,332.10 L353.00,330.68 L353.70,329.19 L354.40,327.64 L355.10,325.99 L355.30,325.50 L355.80,324.17 L356.50,322.10 L357.20,319.96 L357.90,317.93 L358.30,316.90 L358.60,316.20 L359.30,314.72 L360.00,313.31 L360.60,312.00 L361.40,310.03 L362.10,308.20 L362.80,306.33 L363.30,305.00 L364.20,302.59 L364.90,300.68 L365.60,298.76 L366.30,296.85 L367.00,294.98 L367.70,293.18 L368.30,291.70 L369.10,289.76 L369.80,288.06 L370.50,286.42 L371.20,284.89 L371.90,283.51 L372.50,282.50 L373.30,281.32 L374.00,280.36 L374.70,279.49 L375.40,278.71 L376.10,278.02 L376.70,277.50 L377.50,276.93 L378.20,276.52 L378.90,276.15 L379.60,275.77 L380.30,275.35 L380.80,275.00 L381.70,274.28 L382.40,273.64 L383.10,272.95 L383.80,272.18 L384.20,271.70 L384.50,271.27 L385.20,269.97 L385.90,268.63 L386.70,267.70 L387.30,267.43 L388.00,267.17 L388.70,266.99 L389.40,266.90 L389.60,266.90 L390.10,266.99 L390.80,267.37 L391.50,267.95 L392.20,268.62 L392.90,269.27 L393.30,269.60 L393.60,269.83 L394.30,270.35 L395.00,270.88 L395.70,271.41 L396.40,271.97 L397.10,272.55 L397.50,272.90 L397.80,273.16 L398.50,273.76 L399.20,274.42 L400.00,275.40 L400.60,276.47 L401.30,278.16 L402.00,280.17 L402.50,281.70 L403.40,284.92 L404.10,287.83 L404.60,290.00 L405.40,293.75 L406.20,293.95 L406.90,294.02 L407.60,294.08 L408.30,294.20 L408.30,294.20 L409.00,294.48 L409.70,294.93 L410.40,295.50 L411.10,296.14 L411.70,296.70 L412.50,297.52 L413.20,298.35 L413.90,299.26 L414.60,300.23 L415.00,300.80 L415.30,301.24 L416.00,302.33 L416.70,303.52 L417.50,305.00 L418.10,306.20 L418.80,307.69 L419.50,309.28 L420.20,310.97 L420.90,312.78 L421.70,315.00 L422.30,316.82 L423.00,319.16 L423.70,321.69 L424.40,324.35 L425.00,326.70 L425.80,329.87 L426.50,332.77 L427.20,335.92 L428.00,340.00 L428.60,343.72 L429.30,348.81 L430.00,354.20 L430.80,360.00 L431.40,363.87 L432.10,368.13 L432.80,372.27 L433.50,376.46 L434.20,380.89 L434.80,385.00 L435.60,391.13 L436.30,396.97 L437.00,403.04 L437.70,409.13 L438.40,415.00 L438.40,415.00 L439.10,420.83 L439.80,426.78 L440.50,432.65 L441.20,438.25 L441.90,443.37 L442.30,446.00 L442.60,447.85 L443.30,451.93 L444.00,455.72 L444.70,459.27 L445.40,462.61 L446.10,465.81 L446.30,466.70 L446.80,468.89 L447.50,471.85 L448.20,474.69 L448.90,477.39 L449.60,479.94 L450.30,482.34 L450.50,483.00 L451.00,484.60 L451.70,486.77 L452.40,488.85 L453.10,490.86 L453.80,492.78 L454.50,494.63 L455.20,496.41 L455.90,498.12 L456.70,500.00 L457.30,501.36 L458.00,502.90 L458.70,504.39 L459.40,505.84 L460.10,507.23 L460.80,508.58 L461.50,509.88 L462.20,511.13 L462.90,512.33 L463.30,513.00 L463.60,513.49 L464.30,514.62 L465.00,515.73 L465.70,516.80 L466.40,517.84 L467.10,518.84 L467.80,519.80 L468.50,520.71 L469.20,521.57 L470.00,522.50 L470.60,523.16 L471.30,523.91 L472.00,524.64 L472.70,525.35 L473.40,526.03 L474.10,526.69 L474.80,527.32 L475.50,527.92 L476.20,528.49 L476.90,529.03 L477.60,529.53 L478.30,530.00 L478.30,530.00 L479.00,530.45 L479.70,530.88 L480.40,531.30 L481.10,531.70 L481.80,532.09 L482.50,532.46 L483.20,532.81 L483.90,533.14 L484.60,533.44 L485.30,533.72 L486.00,533.98 L486.70,534.20 L486.70,534.20 L487.40,534.41 L488.10,534.60 L488.80,534.79 L489.50,534.97 L490.20,535.14 L490.90,535.30 L491.60,535.46 L492.30,535.60 L493.00,535.74 L493.70,535.86 L494.40,535.98 L495.10,536.09 L495.80,536.19 L496.50,536.28 L496.70,536.30 L497.20,536.36 L497.90,536.44 L498.60,536.52 L499.30,536.59 L500.00,536.67 L500.70,536.74 L501.40,536.80 L502.10,536.86 L502.80,536.92 L503.50,536.97 L504.20,537.01 L504.90,537.05 L505.60,537.07 L506.30,537.09 L506.70,537.10 L507.00,537.10 L507.70,537.11 L508.40,537.12 L509.10,537.13 L509.80,537.14 L510.50,537.14 L511.20,537.15 L511.90,537.16 L512.60,537.16 L513.30,537.17 L514.00,537.17 L514.70,537.18 L515.40,537.18 L516.10,537.19 L516.80,537.19 L517.50,537.20 L518.20,537.20 L518.90,537.21 L519.60,537.21 L520.30,537.21 L521.00,537.22 L521.70,537.22 L522.40,537.22 L523.10,537.23 L523.80,537.23 L524.50,537.23 L525.20,537.23 L525.90,537.24 L526.60,537.24 L527.30,537.24 L528.00,537.24 L528.70,537.25 L529.40,537.25 L530.10,537.25 L530.80,537.25 L531.50,537.26 L532.20,537.26 L532.90,537.26 L533.60,537.26 L534.30,537.27 L535.00,537.27 L535.70,537.27 L536.40,537.28 L537.10,537.28 L537.80,537.29 L538.50,537.29 L539.20,537.29 L540.00,537.30 L540.60,537.30 L541.30,537.31 L542.00,537.31 L542.70,537.32 L543.40,537.32 L544.10,537.33 L544.80,537.33 L545.50,537.33 L546.20,537.34 L546.90,537.34 L547.60,537.35 L548.30,537.35 L549.00,537.35 L549.70,537.36 L550.40,537.36 L551.10,537.37 L551.80,537.37 L552.50,537.38 L553.20,537.38 L553.90,537.38 L554.60,537.39 L555.30,537.40 L556.00,537.40 L556.70,537.41 L557.40,537.41 L558.10,537.42 L558.80,537.43 L559.50,537.43 L560.20,537.44 L560.90,537.45 L561.60,537.46 L562.30,537.46 L563.00,537.47 L563.70,537.48 L564.40,537.49 L565.00,537.50 L565.80,537.51 L566.50,537.53 L567.20,537.55 L567.90,537.58 L568.60,537.60 L569.30,537.63 L570.00,537.67 L570.70,537.70 L571.40,537.74 L572.10,537.78 L572.80,537.82 L573.50,537.87 L574.20,537.91 L574.90,537.96 L575.60,538.00 L576.30,538.05 L577.00,538.10 L577.70,538.15 L578.40,538.19 L579.10,538.24 L579.80,538.29 L580.00,538.30 L580.50,538.33 L581.20,538.38 L581.90,538.44 L582.60,538.49 L583.30,538.55 L584.00,538.61 L584.70,538.67 L585.40,538.73 L586.10,538.79 L586.80,538.85 L587.50,538.91 L588.20,538.97 L588.90,539.02 L589.60,539.07 L590.00,539.10 L590.30,539.12 L591.00,539.17 L591.70,539.22 L592.40,539.27 L593.10,539.32 L593.80,539.37 L594.50,539.41 L595.20,539.46 L595.90,539.50 L596.60,539.55 L597.30,539.58 L598.00,539.62 L598.70,539.65 L599.40,539.68 L600.00,539.70 L600.80,539.72 L601.50,539.75 L602.20,539.77 L602.90,539.79 L603.60,539.81 L604.30,539.83 L605.00,539.85 L605.70,539.87 L606.40,539.88 L607.10,539.90 L607.80,539.91 L608.50,539.93 L609.20,539.94 L609.90,539.96 L610.60,539.97 L611.30,539.98 L612.00,539.98 L612.70,539.99 L613.40,540.00 L614.10,540.00 L614.80,540.00 L615.00,540.00 L615.50,540.00 L616.20,540.00 L616.90,540.00 L617.60,540.00 L618.30,540.00 L619.00,540.00 L619.70,540.00 L620.40,540.00 L621.10,540.00 L621.80,540.00 L622.50,540.00 L623.20,540.00 L623.90,540.00 L624.60,540.00 L625.30,540.00 L626.00,540.00 L626.70,540.00 L627.40,540.00 L628.10,540.00 L628.80,540.00 L629.50,540.00 L630.20,540.00 L630.90,540.00 L631.60,540.00 L632.30,540.00 L633.00,540.00 L633.70,540.00 L634.40,540.00 L635.10,540.00 L635.80,540.00 L636.50,540.00 L637.20,540.00 L637.90,540.00 L638.60,540.00 L639.30,540.00 L640.00,540.00 L640.70,540.00 L641.40,540.00 L642.10,540.00 L642.80,540.00 L643.50,540.00 L644.20,540.00 L644.90,540.00 L645.60,540.00 L646.30,540.00 L647.00,540.00 L647.70,540.00 L648.40,540.00 L649.10,540.00 L649.80,540.00 L650.50,540.00 L651.20,540.00 L651.90,540.00 L652.60,540.00 L653.30,540.00 L654.00,540.00 L654.70,540.00 L655.40,540.00 L656.10,540.00 L656.80,540.00 L657.50,540.00 L658.20,540.00 L658.90,540.00 L659.60,540.00 L660.30,540.00 L661.00,540.00 L661.70,540.00 L662.40,540.00 L663.10,540.00 L663.80,540.00 L664.50,540.00 L665.20,540.00 L665.90,540.00 L666.60,540.00 L667.30,540.00 L668.00,540.00 L668.70,540.00 L669.40,540.00 L670.10,540.00 L670.80,540.00 L671.50,540.00 L672.20,540.00 L672.90,540.00 L673.60,540.00 L674.30,540.00 L675.00,540.00 L675.70,540.00 L676.40,540.00 L677.10,540.00 L677.80,540.00 L678.50,540.00 L679.20,540.00 L679.90,540.00 L680.60,540.00 L681.30,540.00 L682.00,540.00 L682.70,540.00 L683.40,540.00 L684.10,540.00 L684.80,540.00 L685.50,540.00 L686.20,540.00 L686.90,540.00 L687.60,540.00 L688.30,540.00 L689.00,540.00 L689.70,540.00 L690.40,540.00 L691.10,540.00 L691.80,540.00 L692.50,540.00 L693.20,540.00 L693.90,540.00 L694.60,540.00 L695.30,540.00 L696.00,540.00 L696.70,540.00 L697.40,540.00 L698.10,540.00 L698.80,540.00 L699.50,540.00 L700.20,540.00 L700.90,540.00 L701.60,540.00 L702.30,540.00 L703.00,540.00 L703.70,540.00 L704.40,540.00 L705.10,540.00 L705.80,540.00 L706.50,540.00 L707.20,540.00 L707.90,540.00 L708.60,540.00 L709.30,540.00 L710.00,540.00 L710.70,540.00 L711.40,540.00 L712.10,540.00 L712.80,540.00 L713.50,540.00 L714.20,540.00 L714.90,540.00 L715.60,540.00 L716.30,540.00 L717.00,540.00 L717.70,540.00 L718.40,540.00 L719.10,540.00 L719.80,540.00 L720.50,540.00 L721.20,540.00 L721.90,540.00 L722.60,540.00 L723.30,540.00 L724.00,540.00 L724.70,540.00 L725.40,540.00 L726.10,540.00 L726.80,540.00 L727.50,540.00 L728.20,540.00 L728.90,540.00 L729.60,540.00 L730.30,540.00 L731.00,540.00 L731.70,540.00 L732.40,540.00 L733.10,540.00 L733.80,540.00 L734.50,540.00 L735.20,540.00 L735.90,540.00 L736.60,540.00 L737.30,540.00 L738.00,540.00 L738.70,540.00 L739.40,540.00 L740.10,540.00 L740.80,540.00 L741.50,540.00 L742.20,540.00 L742.90,540.00 L743.60,540.00 L744.30,540.00 L745.00,540.00 L745.70,540.00 L746.40,540.00 L747.10,540.00 L747.80,540.00 L748.50,540.00 L749.20,540.00 L749.90,540.00 L750.60,540.00 L751.30,540.00 L752.00,540.00 L752.70,540.00 L753.40,540.00 L754.10,540.00 L754.80,540.00 L755.50,540.00 L756.20,540.00 L756.90,540.00 L757.60,540.00 L758.30,540.00 L759.00,540.00 L759.70,540.00 L760.40,540.00 L761.10,540.00 L761.80,540.00 L762.50,540.00 L763.20,540.00 L763.90,540.00 L764.60,540.00 L765.30,540.00 L766.00,540.00 L766.70,540.00 L767.40,540.00 L768.10,540.00 L768.80,540.00 L769.50,540.00 L770.20,540.00 L770.90,540.00 L771.60,540.00 L772.30,540.00 L773.00,540.00 L773.70,540.00 L774.40,540.00 L775.10,540.00 L775.80,540.00 L776.50,540.00 L777.20,540.00 L777.90,540.00 L778.60,540.00 L779.30,540.00 L780.00,540.00 L780.70,540.00 L781.40,540.00 L782.10,540.00 L782.80,540.00 L783.50,540.00 L784.20,540.00 L784.90,540.00 L785.60,540.00 L786.30,540.00 L787.00,540.00 L787.70,540.00 L788.40,540.00 L789.10,540.00 L789.80,540.00 L790.50,540.00 L791.20,540.00 L791.90,540.00 L792.60,540.00 L793.30,540.00 L794.00,540.00 L794.70,540.00 L795.40,540.00 L796.10,540.00 L796.80,540.00 L797.50,540.00 L798.20,540.00 L798.90,540.00 L799.60,540.00 L800.30,540.00 L801.00,540.00 L801.70,540.00 L802.40,540.00 L803.10,540.00 L803.80,540.00 L804.50,540.00 L805.20,540.00 L805.90,540.00 L806.60,540.00 L807.30,540.00 L808.00,540.00 L808.70,540.00 L809.40,540.00 L810.10,540.00 L810.80,540.00 L811.50,540.00 L812.20,540.00 L812.90,540.00 L813.60,540.00 L814.30,540.00 L815.00,540.00 L815.70,540.00 L816.40,540.00 L817.10,540.00 L817.80,540.00 L818.50,540.00 L819.20,540.00 L819.90,540.00 L820.60,540.00 L821.30,540.00 L822.00,540.00 L822.70,540.00 L823.40,540.00 L824.10,540.00 L824.80,540.00 L825.50,540.00 L826.20,540.00 L826.90,540.00 L827.60,540.00 L828.30,540.00 L829.00,540.00 L829.70,540.00 L830.40,540.00 L831.10,540.00 L831.80,540.00 L832.50,540.00 L833.20,540.00 L833.90,540.00 L834.60,540.00 L835.30,540.00 L836.00,540.00 L836.70,540.00 L837.40,540.00 L838.10,540.00 L838.80,540.00 L839.50,540.00 L840.20,540.00 L840.90,540.00 L841.60,540.00 L842.30,540.00 L843.00,540.00 L843.70,540.00 L844.40,540.00 L845.10,540.00 L845.80,540.00 L846.50,540.00 L847.20,540.00 L847.90,540.00 L848.60,540.00 L849.30,540.00 L850.00,540.00 L850.70,540.00 L851.40,540.00 L852.10,540.00 L852.80,540.00 L853.50,540.00 L854.20,540.00 L854.90,540.00 L855.60,540.00 L856.30,540.00 L857.00,540.00 L857.70,540.00 L858.40,540.00 L859.10,540.00 L859.80,540.00 L860.50,540.00 L861.20,540.00 L861.90,540.00 L862.60,540.00 L863.30,540.00 L864.00,540.00 L864.70,540.00 L865.40,540.00 L866.10,540.00 L866.80,540.00 L867.50,540.00 L868.20,540.00 L868.90,540.00 L869.60,540.00 L870.30,540.00 L871.00,540.00 L871.70,540.00 L872.40,540.00 L873.10,540.00 L873.80,540.00 L874.50,540.00 L875.20,540.00 L875.90,540.00 L876.60,540.00 L877.30,540.00 L878.00,540.00 L878.70,540.00 L879.40,540.00 L880.10,540.00 L880.80,540.00 L881.50,540.00 L882.20,540.00 L882.90,540.00 L883.60,540.00 L884.30,540.00 L885.00,540.00 L885.70,540.00 L886.40,540.00 L887.10,540.00 L887.80,540.00 L888.50,540.00 L889.20,540.00 L889.90,540.00 L890.60,540.00 L891.30,540.00 L892.00,540.00 L892.70,540.00 L893.40,540.00 L894.10,540.00 L894.80,540.00 L895.50,540.00 L896.20,540.00 L896.90,540.00 L897.60,540.00 L898.30,540.00 L899.00,540.00 L899.70,540.00 L900.40,540.00 L901.10,540.00 L901.80,540.00 L902.50,540.00 L903.20,540.00 L903.90,540.00 L904.60,540.00 L905.30,540.00 L906.00,540.00 L906.70,540.00 L907.40,540.00 L908.10,540.00 L908.80,540.00 L909.50,540.00 L910.20,540.00 L910.90,540.00 L911.60,540.00 L912.30,540.00 L913.00,540.00 L913.70,540.00 L914.40,540.00 L915.10,540.00 L915.80,540.00 L916.50,540.00 L917.20,540.00 L917.90,540.00 L918.60,540.00 L919.30,540.00 L920.00,540.00 L920.70,540.00 L921.40,540.00 L922.10,540.00 L922.80,540.00 L923.50,540.00 L924.20,540.00 L924.90,540.00 L925.60,540.00 L926.30,540.00 L927.00,540.00 L927.70,540.00 L928.40,540.00 L929.10,540.00 L929.80,540.00 L930.50,540.00 L931.20,540.00 L931.90,540.00 L932.60,540.00 L933.30,540.00 L934.00,540.00 L934.70,540.00 L935.40,540.00 L936.10,540.00 L936.80,540.00 L937.50,540.00 L938.20,540.00 L938.90,540.00 L939.60,540.00 L940.30,540.00 L941.00,540.00 L941.70,540.00 L942.40,540.00 L943.10,540.00 L943.80,540.00 L944.50,540.00 L945.20,540.00 L945.90,540.00 L946.60,540.00 L947.30,540.00 L948.00,540.00 L948.70,540.00 L949.40,540.00 L950.10,540.00 L950.80,540.00 L951.50,540.00 L952.20,540.00 L952.90,540.00 L953.60,540.00 L954.30,540.00 L955.00,540.00 L955.70,540.00 L956.40,540.00 L957.10,540.00 L957.80,540.00 L958.50,540.00 L959.20,540.00 L959.90,540.00 L960.60,540.00 L961.30,540.00 L962.00,540.00 L962.70,540.00 L963.40,540.00 L964.10,540.00 L964.80,540.00 L965.50,540.00 L966.20,540.00 L966.90,540.00 L967.60,540.00 L968.30,540.00 L969.00,540.00 L969.70,540.00 L970.40,540.00 L971.10,540.00 L971.80,540.00 L972.50,540.00 L973.20,540.00 L973.90,540.00 L974.60,540.00 L975.30,540.00 L976.00,540.00 L976.70,540.00 L977.40,540.00 L978.10,540.00 L978.80,540.00 L979.50,540.00 L980.20,540.00 L980.90,540.00 L981.60,540.00 L982.30,540.00 L983.00,540.00 L983.70,540.00 L984.40,540.00 L985.10,540.00 L985.80,540.00 L986.50,540.00 L987.20,540.00 L987.90,540.00 L988.60,540.00 L989.30,540.00 L990.00,540.00 L990.70,540.00 L991.40,540.00 L992.10,540.00 L992.80,540.00 L993.50,540.00 L994.00,540.00" fill="none" stroke="#008000" stroke-width="2.85" stroke-linejoin="round" stroke-linecap="butt"/>
</g>
<g stroke="#000" stroke-width="0.69" stroke-dasharray="1.3889 4.1667" fill="none">
<line x1="221.50" y1="540.5" x2="221.50" y2="60.5"/>
<line x1="292.50" y1="540.5" x2="292.50" y2="60.5"/>
<line x1="364.50" y1="540.5" x2="364.50" y2="60.5"/>
<line x1="436.50" y1="540.5" x2="436.50" y2="60.5"/>
<line x1="507.50" y1="540.5" x2="507.50" y2="60.5"/>
<line x1="579.50" y1="540.5" x2="579.50" y2="60.5"/>
<line x1="650.50" y1="540.5" x2="650.50" y2="60.5"/>
<line x1="722.50" y1="540.5" x2="722.50" y2="60.5"/>
<line x1="794.50" y1="540.5" x2="794.50" y2="60.5"/>
<line x1="865.50" y1="540.5" x2="865.50" y2="60.5"/>
<line x1="937.50" y1="540.5" x2="937.50" y2="60.5"/>
<line x1="1008.50" y1="540.5" x2="1008.50" y2="60.5"/>
<line x1="150.5" y1="478.50" x2="1080.5" y2="478.50"/>
<line x1="150.5" y1="415.50" x2="1080.5" y2="415.50"/>
<line x1="150.5" y1="353.50" x2="1080.5" y2="353.50"/>
<line x1="150.5" y1="291.50" x2="1080.5" y2="291.50"/>
<line x1="150.5" y1="228.50" x2="1080.5" y2="228.50"/>
<line x1="150.5" y1="166.50" x2="1080.5" y2="166.50"/>
<line x1="150.5" y1="104.50" x2="1080.5" y2="104.50"/>
</g>
<g stroke="#000" stroke-width="0.69" fill="none">
<line x1="221.50" y1="540.5" x2="221.50" y2="534.9"/>
<line x1="221.50" y1="60.5" x2="221.50" y2="66.1"/>
<line x1="292.50" y1="540.5" x2="292.50" y2="534.9"/>
<line x1="292.50" y1="60.5" x2="292.50" y2="66.1"/>
<line x1="364.50" y1="540.5" x2="364.50" y2="534.9"/>
<line x1="364.50" y1="60.5" x2="364.50" y2="66.1"/>
<line x1="436.50" y1="540.5" x2="436.50" y2="534.9"/>
<line x1="436.50" y1="60.5" x2="436.50" y2="66.1"/>
<line x1="507.50" y1="540.5" x2="507.50" y2="534.9"/>
<line x1="507.50" y1="60.5" x2="507.50" y2="66.1"/>
<line x1="579.50" y1="540.5" x2="579.50" y2="534.9"/>
<line x1="579.50" y1="60.5" x2="579.50" y2="66.1"/>
<line x1="650.50" y1="540.5" x2="650.50" y2="534.9"/>
<line x1="650.50" y1="60.5" x2="650.50" y2="66.1"/>
<line x1="722.50" y1="540.5" x2="722.50" y2="534.9"/>
<line x1="722.50" y1="60.5" x2="722.50" y2="66.1"/>
<line x1="794.50" y1="540.5" x2="794.50" y2="534.9"/>
<line x1="794.50" y1="60.5" x2="794.50" y2="66.1"/>
<line x1="865.50" y1="540.5" x2="865.50" y2="534.9"/>
<line x1="865.50" y1="60.5" x2="865.50" y2="66.1"/>
<line x1="937.50" y1="540.5" x2="937.50" y2="534.9"/>
<line x1="937.50" y1="60.5" x2="937.50" y2="66.1"/>
<line x1="1008.50" y1="540.5" x2="1008.50" y2="534.9"/>
<line x1="1008.50" y1="60.5" x2="1008.50" y2="66.1"/>
<line x1="150.5" y1="540.50" x2="156.1" y2="540.50"/>
<line x1="1080.5" y1="540.50" x2="1074.9" y2="540.50"/>
<line x1="150.5" y1="478.50" x2="156.1" y2="478.50"/>
<line x1="1080.5" y1="478.50" x2="1074.9" y2="478.50"/>
<line x1="150.5" y1="415.50" x2="156.1" y2="415.50"/>
<line x1="1080.5" y1="415.50" x2="1074.9" y2="415.50"/>
<line x1="150.5" y1="353.50" x2="156.1" y2="353.50"/>
<line x1="1080.5" y1="353.50" x2="1074.9" y2="353.50"/>
<line x1="150.5" y1="291.50" x2="156.1" y2="291.50"/>
<line x1="1080.5" y1="291.50" x2="1074.9" y2="291.50"/>
<line x1="150.5" y1="228.50" x2="156.1" y2="228.50"/>
<line x1="1080.5" y1="228.50" x2="1074.9" y2="228.50"/>
<line x1="150.5" y1="166.50" x2="156.1" y2="166.50"/>
<line x1="1080.5" y1="166.50" x2="1074.9" y2="166.50"/>
<line x1="150.5" y1="104.50" x2="156.1" y2="104.50"/>
<line x1="1080.5" y1="104.50" x2="1074.9" y2="104.50"/>
</g>
<rect x="150.5" y="60.5" width="930" height="480" fill="none" stroke="#000" stroke-width="1.39"/>
<text class="tick" transform="translate(220.58,560.00) scale(1.0,1.065)" text-anchor="middle">1</text>
<text class="tick" transform="translate(292.17,560.00) scale(1.0,1.065)" text-anchor="middle">2</text>
<text class="tick" transform="translate(363.76,560.00) scale(1.0,1.065)" text-anchor="middle">3</text>
<text class="tick" transform="translate(435.36,560.00) scale(1.0,1.065)" text-anchor="middle">4</text>
<text class="tick" transform="translate(506.95,560.00) scale(1.0,1.065)" text-anchor="middle">5</text>
<text class="tick" transform="translate(578.55,560.00) scale(1.0,1.065)" text-anchor="middle">6</text>
<text class="tick" transform="translate(650.14,560.00) scale(1.0,1.065)" text-anchor="middle">7</text>
<text class="tick" transform="translate(721.73,560.00) scale(1.0,1.065)" text-anchor="middle">8</text>
<text class="tick" transform="translate(793.33,560.00) scale(1.0,1.065)" text-anchor="middle">9</text>
<text class="tick" transform="translate(864.92,560.00) scale(1.0,1.065)" text-anchor="middle">10</text>
<text class="tick" transform="translate(936.51,560.00) scale(1.0,1.065)" text-anchor="middle">11</text>
<text class="tick" transform="translate(1008.11,560.00) scale(1.0,1.065)" text-anchor="middle">12</text>
<text class="ytick" transform="translate(117.90,544.90) scale(1,1.065)" x="0 9.6 14.8" text-anchor="start">0.0</text>
<text class="ytick" transform="translate(117.90,482.90) scale(1,1.065)" x="0 9.6 14.8" text-anchor="start">0.1</text>
<text class="ytick" transform="translate(117.90,419.90) scale(1,1.065)" x="0 9.6 14.8" text-anchor="start">0.2</text>
<text class="ytick" transform="translate(117.90,357.90) scale(1,1.065)" x="0 9.6 14.8" text-anchor="start">0.3</text>
<text class="ytick" transform="translate(117.90,295.90) scale(1,1.065)" x="0 9.6 14.8" text-anchor="start">0.4</text>
<text class="ytick" transform="translate(117.90,232.90) scale(1,1.065)" x="0 9.6 14.8" text-anchor="start">0.5</text>
<text class="ytick" transform="translate(117.90,170.90) scale(1,1.065)" x="0 9.6 14.8" text-anchor="start">0.6</text>
<text class="ytick" transform="translate(117.90,108.90) scale(1,1.065)" x="0 9.6 14.8" text-anchor="start">0.7</text>
<text class="lab" transform="translate(615.50,586.00) scale(1.017,0.935)" text-anchor="middle">Redshift z</text>
<text class="lab" transform="translate(107.90,302.90) rotate(-90) scale(1.0035,0.93)" text-anchor="middle">Probability</text>
<text class="leg" transform="translate(1052.00,100.20) scale(1.004,0.95)" text-anchor="end" style="fill:#0000ff">BPZ P(z)</text>
<text class="leg" transform="translate(1052.00,133.70) scale(1.004,0.95)" text-anchor="end" style="fill:#ff0000">EAZY P(z)</text>
<text class="leg" transform="translate(1052.00,167.20) scale(1.004,0.95)" text-anchor="end" style="fill:#008000">EAZY P(z)+prior</text>
</svg>
</body>
</html>
